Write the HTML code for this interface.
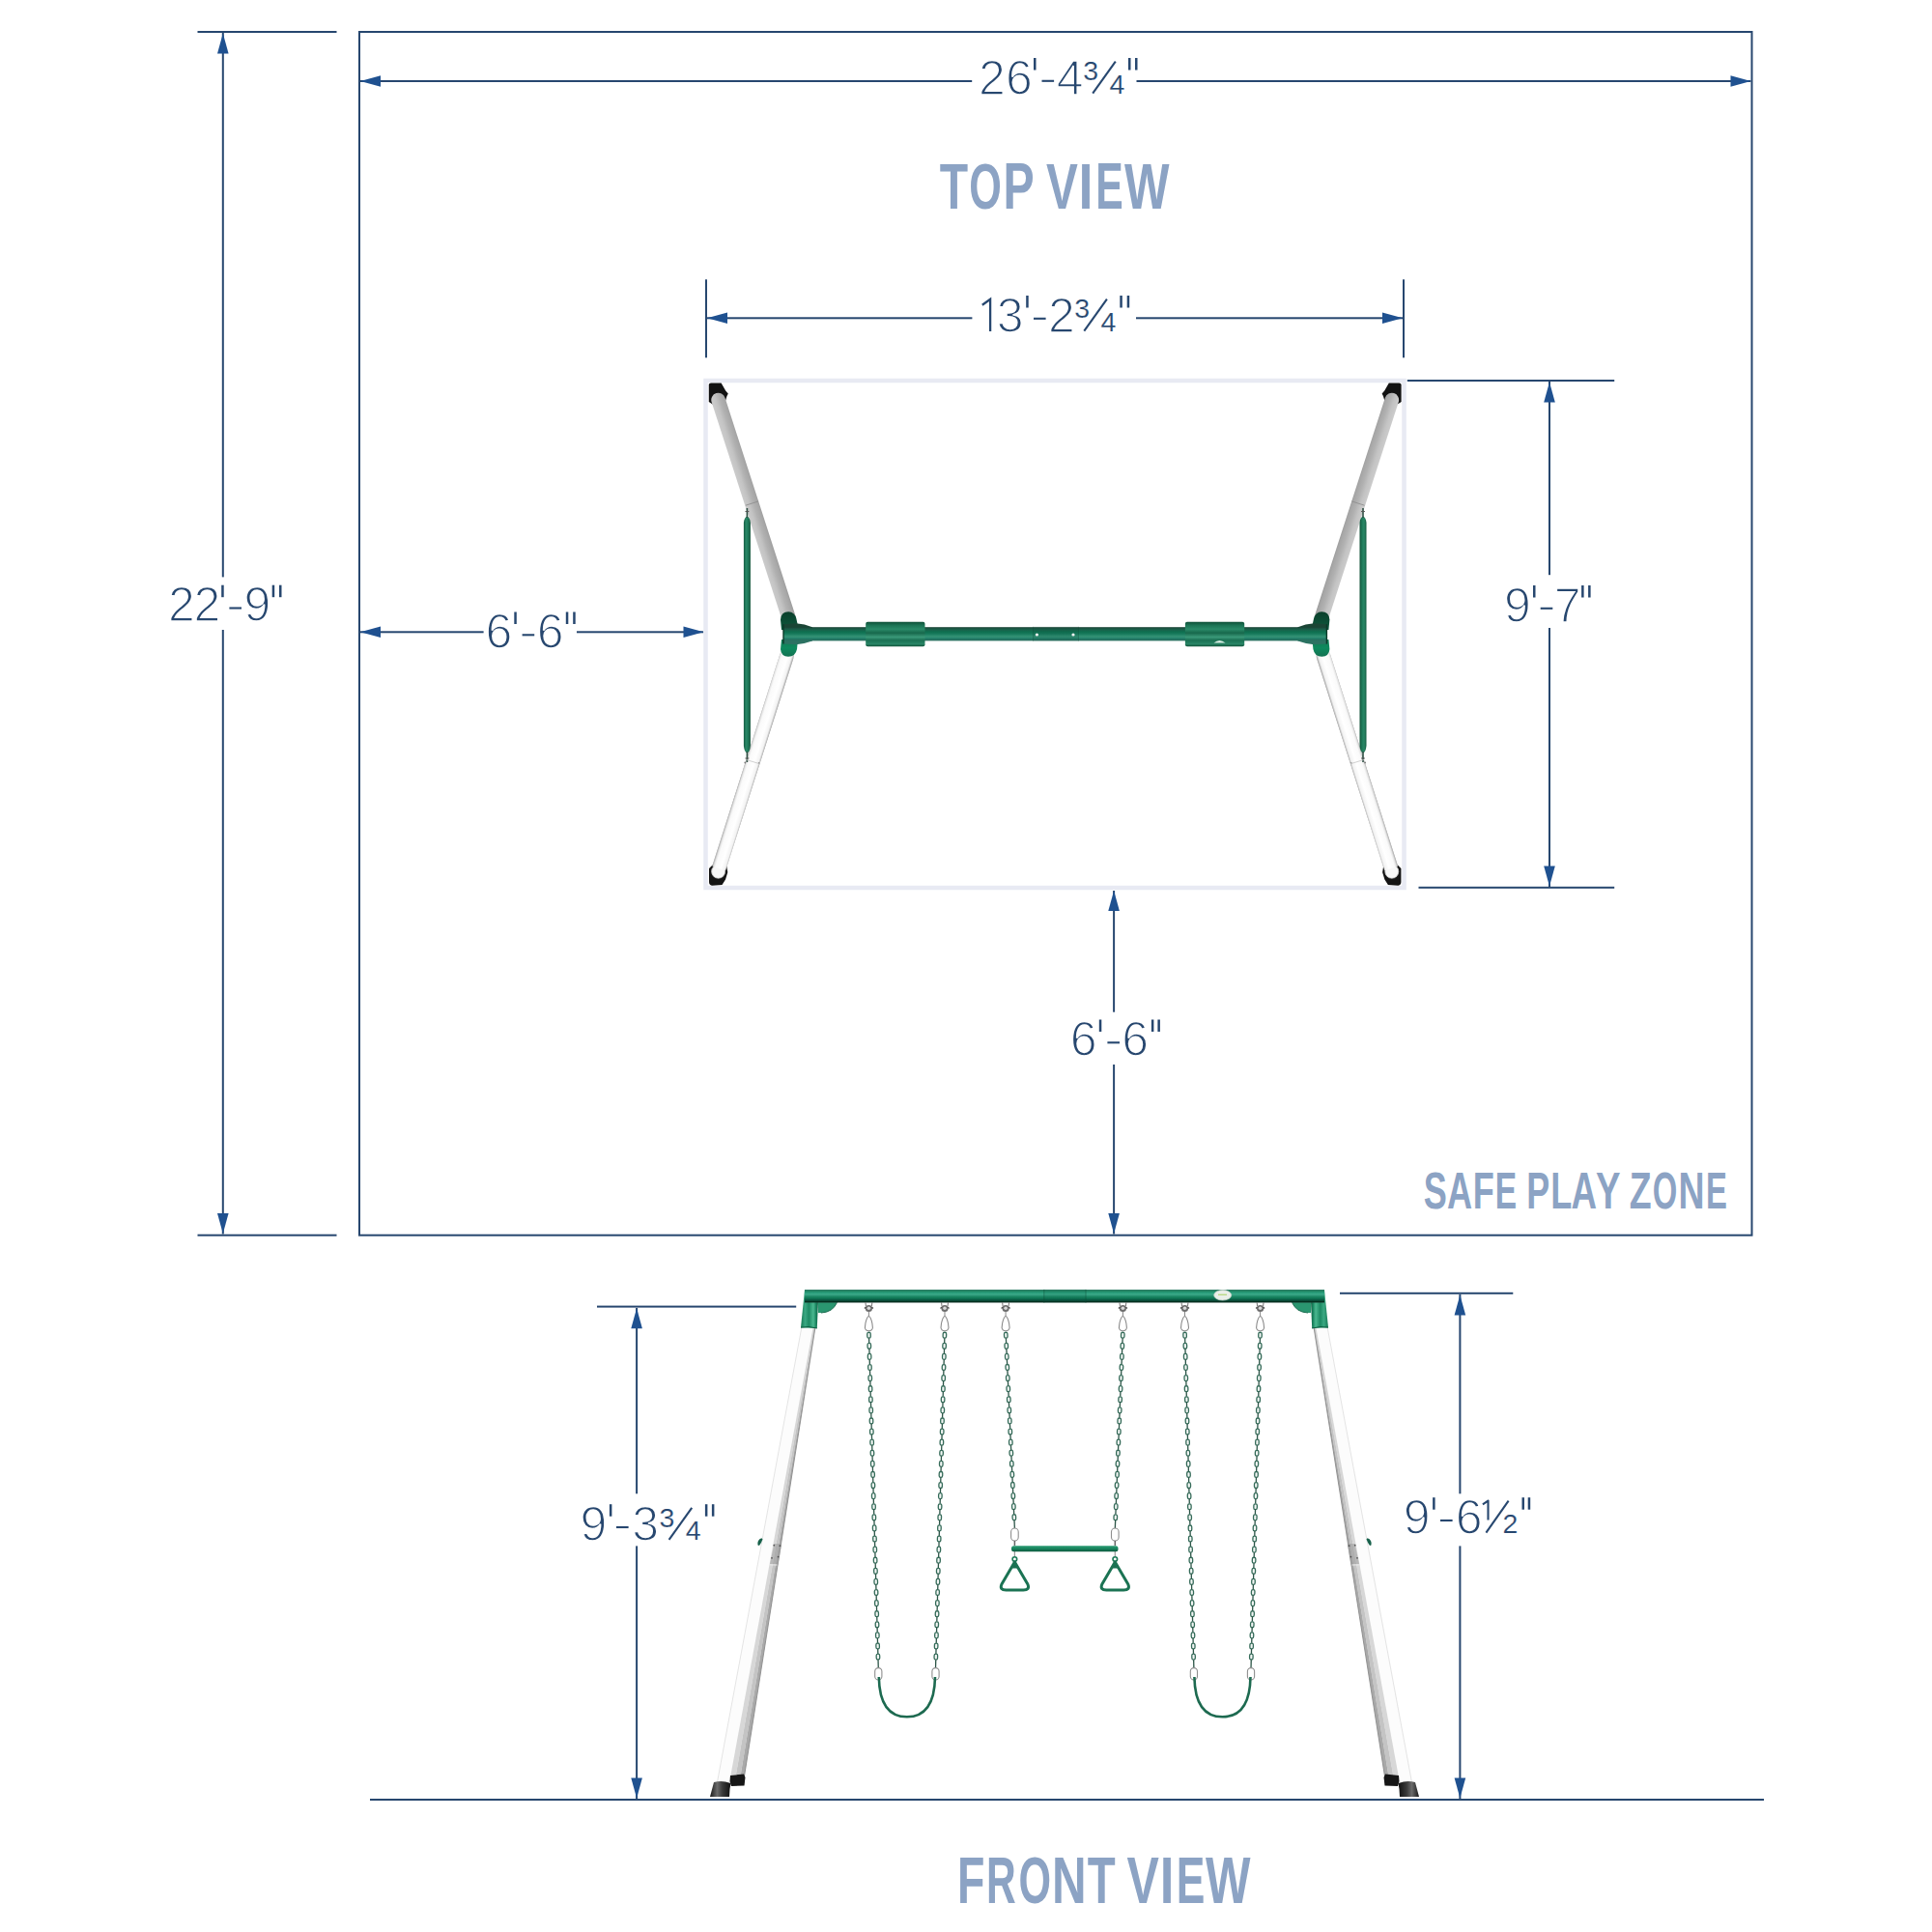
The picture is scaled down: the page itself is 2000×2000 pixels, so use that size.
<!DOCTYPE html>
<html><head><meta charset="utf-8"><title>Swing set dimensions</title>
<style>
html,body{margin:0;padding:0;background:#fff;}
body{width:2000px;height:2000px;overflow:hidden;}
svg{display:block;}
.dim{font-family:"Liberation Sans",sans-serif;font-size:50.0px;fill:#27476f;stroke:#fff;stroke-width:1.6px;paint-order:normal;}
.sm{font-size:28.5px;stroke-width:0.2px;}
.ttl{font-family:"Liberation Sans",sans-serif;font-weight:bold;fill:#8ca3c4;}
</style></head>
<body>
<svg width="2000" height="2000" viewBox="0 0 2000 2000">
<defs><linearGradient id="gUp" gradientUnits="userSpaceOnUse" x1="772.1" y1="525.2" x2="785.9" y2="520.8"><stop offset="0" stop-color="#cbcbcb"/><stop offset="0.3" stop-color="#c3c3c3"/><stop offset="0.6" stop-color="#b1b1b1"/><stop offset="0.9" stop-color="#a6a6a6"/><stop offset="1" stop-color="#9e9e9e"/></linearGradient><linearGradient id="gLo" gradientUnits="userSpaceOnUse" x1="772.0" y1="787.8" x2="786.0" y2="792.2"><stop offset="0" stop-color="#b8b8b8"/><stop offset="0.09" stop-color="#e6e6e6"/><stop offset="0.2" stop-color="#fafafa"/><stop offset="0.6" stop-color="#ffffff"/><stop offset="0.88" stop-color="#f2f2f2"/><stop offset="1" stop-color="#b4b4b4"/></linearGradient><linearGradient id="gBeamT" gradientUnits="userSpaceOnUse" x1="0" y1="649.3" x2="0" y2="663.5"><stop offset="0" stop-color="#1a4535"/><stop offset="0.08" stop-color="#1b5241"/><stop offset="0.2" stop-color="#18634a"/><stop offset="0.34" stop-color="#0e7050"/><stop offset="0.48" stop-color="#17795b"/><stop offset="0.6" stop-color="#288a6c"/><stop offset="0.7" stop-color="#359276"/><stop offset="0.8" stop-color="#23836c"/><stop offset="0.9" stop-color="#24705f"/><stop offset="1" stop-color="#2c7262"/></linearGradient><linearGradient id="gClamp" x1="0" y1="0" x2="0" y2="1"><stop offset="0" stop-color="#0f5038"/><stop offset="0.15" stop-color="#1c7556"/><stop offset="0.3" stop-color="#2a8a68"/><stop offset="0.45" stop-color="#17684c"/><stop offset="0.62" stop-color="#3a9878"/><stop offset="0.75" stop-color="#1a7053"/><stop offset="0.9" stop-color="#2a8566"/><stop offset="1" stop-color="#0f5238"/></linearGradient><linearGradient id="gBrace" x1="0" y1="0" x2="1" y2="0"><stop offset="0" stop-color="#145c42"/><stop offset="0.35" stop-color="#2a8766"/><stop offset="0.65" stop-color="#1f7a5a"/><stop offset="1" stop-color="#125238"/></linearGradient><linearGradient id="gJointU" x1="0" y1="0" x2="0" y2="1"><stop offset="0" stop-color="#0a3f2b"/><stop offset="1" stop-color="#0e5a3e"/></linearGradient><linearGradient id="gJointL" x1="0" y1="0" x2="0" y2="1"><stop offset="0" stop-color="#127a54"/><stop offset="0.5" stop-color="#0e8a5e"/><stop offset="1" stop-color="#137252"/></linearGradient><linearGradient id="gBeamF" x1="0" y1="0" x2="0" y2="1"><stop offset="0" stop-color="#2f7a66"/><stop offset="0.1" stop-color="#258462"/><stop offset="0.18" stop-color="#229270"/><stop offset="0.26" stop-color="#2c9e7c"/><stop offset="0.34" stop-color="#37a886"/><stop offset="0.41" stop-color="#35a080"/><stop offset="0.48" stop-color="#259070"/><stop offset="0.56" stop-color="#188560"/><stop offset="0.63" stop-color="#127a58"/><stop offset="0.7" stop-color="#0e6e50"/><stop offset="0.78" stop-color="#0a5a42"/><stop offset="0.85" stop-color="#0b4a38"/><stop offset="0.93" stop-color="#03301f"/><stop offset="1" stop-color="#1a3a30"/></linearGradient><linearGradient id="gSleeve" x1="0" y1="0" x2="1" y2="0"><stop offset="0" stop-color="#177a56"/><stop offset="0.25" stop-color="#3aa882"/><stop offset="0.45" stop-color="#1d8a64"/><stop offset="0.7" stop-color="#4ab890"/><stop offset="0.85" stop-color="#1a8560"/><stop offset="1" stop-color="#0c5a3e"/></linearGradient><linearGradient id="gGreyLeg" x1="0" y1="0" x2="1" y2="0"><stop offset="0" stop-color="#d8d8d8"/><stop offset="0.45" stop-color="#c6c6c6"/><stop offset="0.8" stop-color="#adadad"/><stop offset="1" stop-color="#8c8c8c"/></linearGradient><linearGradient id="gFoot" x1="0" y1="0" x2="1" y2="0"><stop offset="0" stop-color="#1a1a1a"/><stop offset="0.35" stop-color="#6a6a6a"/><stop offset="0.6" stop-color="#3a3a3a"/><stop offset="1" stop-color="#111"/></linearGradient><linearGradient id="gBar" x1="0" y1="0" x2="0" y2="1"><stop offset="0" stop-color="#2a9a72"/><stop offset="0.4" stop-color="#1c8a62"/><stop offset="1" stop-color="#0c5a3e"/></linearGradient></defs>
<rect width="2000" height="2000" fill="#fff"/>
<rect x="204.5" y="32.0" width="144.0" height="2" fill="#27476f"/>
<rect x="204.5" y="1277.7" width="144.0" height="2" fill="#27476f"/>
<rect x="372" y="33" width="1441.5" height="1245.7" fill="none" stroke="#27476f" stroke-width="2"/>
<rect x="229.8" y="34.0" width="2" height="563.4" fill="#27476f"/>
<rect x="229.8" y="652.0" width="2" height="625.5" fill="#27476f"/>
<polygon points="230.8,34.5 225.0,55.5 236.6,55.5" fill="#1f5190"/>
<polygon points="230.8,1277.0 225.0,1256.0 236.6,1256.0" fill="#1f5190"/>
<rect x="373.0" y="83.0" width="633.2" height="2" fill="#27476f"/>
<rect x="1176.5" y="83.0" width="636.0" height="2" fill="#27476f"/>
<polygon points="373.0,84.0 394.0,78.2 394.0,89.8" fill="#1f5190"/>
<polygon points="1812.5,84.0 1791.5,78.2 1791.5,89.8" fill="#1f5190"/>
<rect x="730.5" y="394" width="723" height="525" fill="none" stroke="#e8eaf3" stroke-width="4.5"/>
<rect x="730.0" y="289.3" width="2" height="81.0" fill="#27476f"/>
<rect x="1452.0" y="289.3" width="2" height="81.0" fill="#27476f"/>
<rect x="732.0" y="328.3" width="274.4" height="2" fill="#27476f"/>
<rect x="1176.0" y="328.3" width="276.0" height="2" fill="#27476f"/>
<polygon points="732.0,329.3 753.0,323.5 753.0,335.1" fill="#1f5190"/>
<polygon points="1452.0,329.3 1431.0,323.5 1431.0,335.1" fill="#1f5190"/>
<rect x="1456.8" y="393.0" width="214.4" height="2" fill="#27476f"/>
<rect x="1468.5" y="917.8" width="202.7" height="2" fill="#27476f"/>
<rect x="1603.0" y="395.0" width="2" height="200.2" fill="#27476f"/>
<rect x="1603.0" y="650.0" width="2" height="268.0" fill="#27476f"/>
<polygon points="1604.0,395.5 1598.2,416.5 1609.8,416.5" fill="#1f5190"/>
<polygon points="1604.0,917.5 1598.2,896.5 1609.8,896.5" fill="#1f5190"/>
<rect x="373.0" y="653.3" width="127.6" height="2" fill="#27476f"/>
<rect x="597.0" y="653.3" width="131.0" height="2" fill="#27476f"/>
<polygon points="373.0,654.3 394.0,648.5 394.0,660.1" fill="#1f5190"/>
<polygon points="728.5,654.3 707.5,648.5 707.5,660.1" fill="#1f5190"/>
<rect x="1152.1" y="922.0" width="2" height="125.7" fill="#27476f"/>
<rect x="1152.1" y="1102.0" width="2" height="175.5" fill="#27476f"/>
<polygon points="1153.1,922.0 1147.3,943.0 1158.9,943.0" fill="#1f5190"/>
<polygon points="1153.1,1277.0 1147.3,1256.0 1158.9,1256.0" fill="#1f5190"/>
<line x1="814.5" y1="679.0" x2="743.5" y2="901.0" stroke="url(#gLo)" stroke-width="14.6" stroke-linecap="round"/><path d="M734,899 L737.5,895.5 L741,897.5 L748,898 L752.3,897 L753.3,903 L751,910.5 L747.5,916 L737,916.8 Q734,916.3 734,913 Z" fill="#141414"/><circle cx="743.6" cy="902.2" r="7" fill="#f7f7f7" stroke="#c4c4c4" stroke-width="0.8"/><line x1="814.5" y1="679.0" x2="744.2" y2="899" stroke="url(#gLo)" stroke-width="14.6"/><path d="M733.8,398 Q734,396.4 736,396.4 L746.6,396.4 L751.2,404.5 L753.8,407.6 L752.5,410 L751,415 L741,418.6 L737.7,418.4 L733.8,415.9 Z" fill="#121212"/><line x1="743.6" y1="414.0" x2="816.0" y2="638.0" stroke="url(#gUp)" stroke-width="14.6" stroke-linecap="round"/><path d="M769.9,541 Q770.5,535.5 773.4,534.5 Q776.3,535.5 776.9,541 L776.9,772 Q776.3,778.5 773.4,779.5 Q770.5,778.5 769.9,772 Z" fill="url(#gBrace)"/><path d="M773.4,526 L773.4,536 M773.4,778 L773.4,789" stroke="#2f4f44" stroke-width="1.6"/><path d="M771.5,529.5 L775.3,529.5 M771.5,785 L775.3,785" stroke="#555" stroke-width="1.2"/><path d="M771.9,523.2 L785.1,518.9" stroke="#8e8e8e" stroke-width="0.9"/><path d="M772.3,786.4 L786.3,790.7" stroke="#c4c4c4" stroke-width="0.8"/><circle cx="771.3" cy="789.5" r="0.9" fill="#777"/><circle cx="785.6" cy="789.8" r="0.8" fill="#999"/><path d="M809,652 L808,641.5 Q808.5,633.2 816.2,633.2 Q822.8,633.6 824.4,640.5 L826,648 L826.5,653 Z" fill="url(#gJointU)"/><path d="M809,662 L826,662 L825,672 Q823.5,679.8 816,679.8 Q808.5,679.5 808,672 Z" fill="url(#gJointL)"/><path d="M811,646.2 L824,645.2 Q833,645.8 841,649.3 L841,663.5 Q833,666.5 824,667.2 L811,666.6 Z" fill="url(#gBeamT)"/><path d="M811,646.2 L811,666.6" stroke="#0a3a28" stroke-width="1.4"/><g transform="translate(2184.4,0) scale(-1,1)"><line x1="814.5" y1="679.0" x2="743.5" y2="901.0" stroke="url(#gLo)" stroke-width="14.6" stroke-linecap="round"/><path d="M734,899 L737.5,895.5 L741,897.5 L748,898 L752.3,897 L753.3,903 L751,910.5 L747.5,916 L737,916.8 Q734,916.3 734,913 Z" fill="#141414"/><circle cx="743.6" cy="902.2" r="7" fill="#f7f7f7" stroke="#c4c4c4" stroke-width="0.8"/><line x1="814.5" y1="679.0" x2="744.2" y2="899" stroke="url(#gLo)" stroke-width="14.6"/><path d="M733.8,398 Q734,396.4 736,396.4 L746.6,396.4 L751.2,404.5 L753.8,407.6 L752.5,410 L751,415 L741,418.6 L737.7,418.4 L733.8,415.9 Z" fill="#121212"/><line x1="743.6" y1="414.0" x2="816.0" y2="638.0" stroke="url(#gUp)" stroke-width="14.6" stroke-linecap="round"/><path d="M769.9,541 Q770.5,535.5 773.4,534.5 Q776.3,535.5 776.9,541 L776.9,772 Q776.3,778.5 773.4,779.5 Q770.5,778.5 769.9,772 Z" fill="url(#gBrace)"/><path d="M773.4,526 L773.4,536 M773.4,778 L773.4,789" stroke="#2f4f44" stroke-width="1.6"/><path d="M771.5,529.5 L775.3,529.5 M771.5,785 L775.3,785" stroke="#555" stroke-width="1.2"/><path d="M771.9,523.2 L785.1,518.9" stroke="#8e8e8e" stroke-width="0.9"/><path d="M772.3,786.4 L786.3,790.7" stroke="#c4c4c4" stroke-width="0.8"/><circle cx="771.3" cy="789.5" r="0.9" fill="#777"/><circle cx="785.6" cy="789.8" r="0.8" fill="#999"/><path d="M809,652 L808,641.5 Q808.5,633.2 816.2,633.2 Q822.8,633.6 824.4,640.5 L826,648 L826.5,653 Z" fill="url(#gJointU)"/><path d="M809,662 L826,662 L825,672 Q823.5,679.8 816,679.8 Q808.5,679.5 808,672 Z" fill="url(#gJointL)"/><path d="M811,646.2 L824,645.2 Q833,645.8 841,649.3 L841,663.5 Q833,666.5 824,667.2 L811,666.6 Z" fill="url(#gBeamT)"/><path d="M811,646.2 L811,666.6" stroke="#0a3a28" stroke-width="1.4"/></g><rect x="838" y="649.2" width="508.4" height="14.2" fill="url(#gBeamT)"/><rect x="896.2" y="643.7" width="61.3" height="25.5" rx="2" fill="url(#gClamp)"/><rect x="1226.9" y="643.7" width="61.3" height="25.5" rx="2" fill="url(#gClamp)"/><path d="M1256.5,665.5 Q1262.5,660.5 1268.5,665.5 Z" fill="#d8eee4"/><rect x="1069" y="648.6" width="48" height="15.2" fill="#0e4a36" opacity="0.12"/><path d="M1069.5,648.8 L1069.5,663.8 M1116.5,648.8 L1116.5,663.8" stroke="#0d4431" stroke-width="0.7" opacity="0.3"/><circle cx="1073.4" cy="657" r="1.6" fill="#f2f2f2"/><circle cx="1111" cy="657" r="1.6" fill="#f2f2f2"/>
<rect x="618.0" y="1351.6" width="206.2" height="2" fill="#27476f"/>
<rect x="1387.0" y="1337.8" width="179.3" height="2" fill="#27476f"/>
<rect x="658.1" y="1354.0" width="2" height="192.3" fill="#27476f"/>
<rect x="658.1" y="1600.4" width="2" height="261.6" fill="#27476f"/>
<polygon points="659.1,1354.3 653.3,1375.3 664.9,1375.3" fill="#1f5190"/>
<polygon points="659.1,1861.5 653.3,1840.5 664.9,1840.5" fill="#1f5190"/>
<rect x="1510.4" y="1340.0" width="2" height="206.3" fill="#27476f"/>
<rect x="1510.4" y="1600.4" width="2" height="261.6" fill="#27476f"/>
<polygon points="1511.4,1340.5 1505.6,1361.5 1517.2,1361.5" fill="#1f5190"/>
<polygon points="1511.4,1861.5 1505.6,1840.5 1517.2,1840.5" fill="#1f5190"/>
<polygon points="829.7,1374.5 843.5,1374.5 757,1846 742,1846" fill="#fcfcfc"/><line x1="829.7" y1="1375" x2="742.3" y2="1846" stroke="#e4e4e4" stroke-width="1"/><polygon points="841.5,1375.0 842.4,1375.0 761.4,1840.0 756.0,1840.0" fill="#d7d7d7"/><polygon points="842.4,1375.0 843.2,1375.0 766.3,1840.0 761.4,1840.0" fill="#c4c4c4"/><polygon points="843.2,1375.0 843.8,1375.0 770.3,1840.0 766.3,1840.0" fill="#a9a9a9"/><line x1="843.8" y1="1375" x2="770.3" y2="1840" stroke="#8a8a8a" stroke-width="0.9"/><polygon points="801.5,1598 809.2,1598 805.6,1619.5 796.9,1619.5" fill="#9c9c9c" opacity="0.55"/><circle cx="801.3" cy="1599.7" r="0.9" fill="#555"/><circle cx="807.4" cy="1600.2" r="0.9" fill="#555"/><circle cx="799.0" cy="1612.8" r="0.9" fill="#555"/><circle cx="805.6" cy="1611.6" r="0.9" fill="#555"/><line x1="796.5" y1="1619.8" x2="804.5" y2="1620" stroke="#f2f2f2" stroke-width="0.9"/><path d="M784.5,1599.5 Q783.5,1594 788.5,1592.3 L789.5,1593.5 Q788,1597.5 786,1600 Z" fill="#17614a"/><path d="M756,1838 L770,1836.5 L771.5,1840 L770.5,1848.5 L757,1849 L755.5,1844 Z" fill="#161616"/><path d="M739,1845 Q745,1843.5 751,1844.5 L756.5,1846 L755.5,1852 L755,1860 L735,1860 Z" fill="url(#gFoot)"/><polygon points="833,1335 847.5,1335 845.8,1375 829,1374.2" fill="url(#gSleeve)"/><path d="M829,1374.2 Q837,1372.5 845.8,1375" stroke="#0c5a3e" stroke-width="1" fill="none"/><path d="M847,1348 L866.5,1348 Q862,1358.5 850,1359 L847,1359 Z" fill="#2a9670"/><path d="M866.5,1348.3 Q862,1358.5 850,1359" stroke="#17694c" stroke-width="1" fill="none"/><g transform="translate(2204.0,0) scale(-1,1)"><polygon points="829.7,1374.5 843.5,1374.5 757,1846 742,1846" fill="#fcfcfc"/><line x1="829.7" y1="1375" x2="742.3" y2="1846" stroke="#e4e4e4" stroke-width="1"/><polygon points="841.5,1375.0 842.4,1375.0 761.4,1840.0 756.0,1840.0" fill="#d7d7d7"/><polygon points="842.4,1375.0 843.2,1375.0 766.3,1840.0 761.4,1840.0" fill="#c4c4c4"/><polygon points="843.2,1375.0 843.8,1375.0 770.3,1840.0 766.3,1840.0" fill="#a9a9a9"/><line x1="843.8" y1="1375" x2="770.3" y2="1840" stroke="#8a8a8a" stroke-width="0.9"/><polygon points="801.5,1598 809.2,1598 805.6,1619.5 796.9,1619.5" fill="#9c9c9c" opacity="0.55"/><circle cx="801.3" cy="1599.7" r="0.9" fill="#555"/><circle cx="807.4" cy="1600.2" r="0.9" fill="#555"/><circle cx="799.0" cy="1612.8" r="0.9" fill="#555"/><circle cx="805.6" cy="1611.6" r="0.9" fill="#555"/><line x1="796.5" y1="1619.8" x2="804.5" y2="1620" stroke="#f2f2f2" stroke-width="0.9"/><path d="M784.5,1599.5 Q783.5,1594 788.5,1592.3 L789.5,1593.5 Q788,1597.5 786,1600 Z" fill="#17614a"/><path d="M756,1838 L770,1836.5 L771.5,1840 L770.5,1848.5 L757,1849 L755.5,1844 Z" fill="#161616"/><path d="M739,1845 Q745,1843.5 751,1844.5 L756.5,1846 L755.5,1852 L755,1860 L735,1860 Z" fill="url(#gFoot)"/><polygon points="833,1335 847.5,1335 845.8,1375 829,1374.2" fill="url(#gSleeve)"/><path d="M829,1374.2 Q837,1372.5 845.8,1375" stroke="#0c5a3e" stroke-width="1" fill="none"/><path d="M847,1348 L866.5,1348 Q862,1358.5 850,1359 L847,1359 Z" fill="#2a9670"/><path d="M866.5,1348.3 Q862,1358.5 850,1359" stroke="#17694c" stroke-width="1" fill="none"/></g><rect x="833" y="1335" width="538" height="13.5" fill="url(#gBeamF)"/><rect x="1080.5" y="1334.6" width="43.8" height="14.3" fill="#0e5a40" opacity="0.1"/><path d="M1080.8,1334.8 L1080.8,1348.8 M1124,1334.8 L1124,1348.8" stroke="#0c4a34" stroke-width="0.8" opacity="0.5"/><ellipse cx="1265.7" cy="1340.8" rx="9" ry="5.2" fill="#e9efe9" stroke="#c8d2c8" stroke-width="0.8"/><line x1="1261" y1="1340.3" x2="1270" y2="1340.3" stroke="#b8d880" stroke-width="1.3"/><path d="M895.9,1348 L896.4,1352 M902.9,1348 L902.4,1352" stroke="#777" stroke-width="1"/><circle cx="899.4" cy="1354.5" r="3.6" fill="#6d6d6d"/><circle cx="899.4" cy="1354.3" r="1.8" fill="#d8d8d8"/><path d="M894.9,1354.5 L896.4,1353 M903.9,1354.5 L902.4,1353" stroke="#555" stroke-width="1.2"/><line x1="899.4" y1="1358" x2="899.4" y2="1363" stroke="#888" stroke-width="1"/><path d="M899.4,1362.5 Q901.4,1363 902.9,1370 L903.4,1374.5 Q902.9,1377.5 899.4,1377.8 Q895.9,1377.5 895.4,1374.5 L895.9,1370 Q897.4,1363 899.4,1362.5 Z" fill="#fff" stroke="#8a8a8a" stroke-width="1.1"/><rect x="897.75" y="1379.25" width="3.5" height="5.9" rx="1.65" fill="#f2f6f4" stroke="#356b59" stroke-width="1.3" transform="rotate(-1.63 899.50 1382.20)"/><line x1="899.59" y1="1385.30" x2="899.73" y2="1390.20" stroke="#2b5446" stroke-width="1.3"/><rect x="898.07" y="1390.34" width="3.5" height="5.9" rx="1.65" fill="#f2f6f4" stroke="#356b59" stroke-width="1.3" transform="rotate(-1.63 899.82 1393.29)"/><line x1="899.91" y1="1396.39" x2="900.04" y2="1401.29" stroke="#2b5446" stroke-width="1.3"/><rect x="898.38" y="1401.44" width="3.5" height="5.9" rx="1.65" fill="#f2f6f4" stroke="#356b59" stroke-width="1.3" transform="rotate(-1.63 900.13 1404.39)"/><line x1="900.22" y1="1407.49" x2="900.36" y2="1412.39" stroke="#2b5446" stroke-width="1.3"/><rect x="898.70" y="1412.54" width="3.5" height="5.9" rx="1.65" fill="#f2f6f4" stroke="#356b59" stroke-width="1.3" transform="rotate(-1.63 900.45 1415.49)"/><line x1="900.53" y1="1418.58" x2="900.67" y2="1423.48" stroke="#2b5446" stroke-width="1.3"/><rect x="899.01" y="1423.63" width="3.5" height="5.9" rx="1.65" fill="#f2f6f4" stroke="#356b59" stroke-width="1.3" transform="rotate(-1.63 900.76 1426.58)"/><line x1="900.85" y1="1429.68" x2="900.99" y2="1434.58" stroke="#2b5446" stroke-width="1.3"/><rect x="899.33" y="1434.73" width="3.5" height="5.9" rx="1.65" fill="#f2f6f4" stroke="#356b59" stroke-width="1.3" transform="rotate(-1.63 901.08 1437.68)"/><line x1="901.16" y1="1440.77" x2="901.30" y2="1445.67" stroke="#2b5446" stroke-width="1.3"/><rect x="899.64" y="1445.82" width="3.5" height="5.9" rx="1.65" fill="#f2f6f4" stroke="#356b59" stroke-width="1.3" transform="rotate(-1.63 901.39 1448.77)"/><line x1="901.48" y1="1451.87" x2="901.62" y2="1456.77" stroke="#2b5446" stroke-width="1.3"/><rect x="899.96" y="1456.92" width="3.5" height="5.9" rx="1.65" fill="#f2f6f4" stroke="#356b59" stroke-width="1.3" transform="rotate(-1.63 901.71 1459.87)"/><line x1="901.79" y1="1462.97" x2="901.93" y2="1467.86" stroke="#2b5446" stroke-width="1.3"/><rect x="900.27" y="1468.01" width="3.5" height="5.9" rx="1.65" fill="#f2f6f4" stroke="#356b59" stroke-width="1.3" transform="rotate(-1.63 902.02 1470.96)"/><line x1="902.11" y1="1474.06" x2="902.25" y2="1478.96" stroke="#2b5446" stroke-width="1.3"/><rect x="900.59" y="1479.11" width="3.5" height="5.9" rx="1.65" fill="#f2f6f4" stroke="#356b59" stroke-width="1.3" transform="rotate(-1.63 902.34 1482.06)"/><line x1="902.42" y1="1485.16" x2="902.56" y2="1490.06" stroke="#2b5446" stroke-width="1.3"/><rect x="900.90" y="1490.20" width="3.5" height="5.9" rx="1.65" fill="#f2f6f4" stroke="#356b59" stroke-width="1.3" transform="rotate(-1.63 902.65 1493.15)"/><line x1="902.74" y1="1496.25" x2="902.88" y2="1501.15" stroke="#2b5446" stroke-width="1.3"/><rect x="901.22" y="1501.30" width="3.5" height="5.9" rx="1.65" fill="#f2f6f4" stroke="#356b59" stroke-width="1.3" transform="rotate(-1.63 902.97 1504.25)"/><line x1="903.05" y1="1507.35" x2="903.19" y2="1512.25" stroke="#2b5446" stroke-width="1.3"/><rect x="901.53" y="1512.39" width="3.5" height="5.9" rx="1.65" fill="#f2f6f4" stroke="#356b59" stroke-width="1.3" transform="rotate(-1.63 903.28 1515.34)"/><line x1="903.37" y1="1518.44" x2="903.51" y2="1523.34" stroke="#2b5446" stroke-width="1.3"/><rect x="901.85" y="1523.49" width="3.5" height="5.9" rx="1.65" fill="#f2f6f4" stroke="#356b59" stroke-width="1.3" transform="rotate(-1.63 903.60 1526.44)"/><line x1="903.68" y1="1529.54" x2="903.82" y2="1534.44" stroke="#2b5446" stroke-width="1.3"/><rect x="902.16" y="1534.59" width="3.5" height="5.9" rx="1.65" fill="#f2f6f4" stroke="#356b59" stroke-width="1.3" transform="rotate(-1.63 903.91 1537.54)"/><line x1="904.00" y1="1540.63" x2="904.14" y2="1545.53" stroke="#2b5446" stroke-width="1.3"/><rect x="902.48" y="1545.68" width="3.5" height="5.9" rx="1.65" fill="#f2f6f4" stroke="#356b59" stroke-width="1.3" transform="rotate(-1.63 904.23 1548.63)"/><line x1="904.31" y1="1551.73" x2="904.45" y2="1556.63" stroke="#2b5446" stroke-width="1.3"/><rect x="902.79" y="1556.78" width="3.5" height="5.9" rx="1.65" fill="#f2f6f4" stroke="#356b59" stroke-width="1.3" transform="rotate(-1.63 904.54 1559.73)"/><line x1="904.63" y1="1562.83" x2="904.77" y2="1567.72" stroke="#2b5446" stroke-width="1.3"/><rect x="903.11" y="1567.87" width="3.5" height="5.9" rx="1.65" fill="#f2f6f4" stroke="#356b59" stroke-width="1.3" transform="rotate(-1.63 904.86 1570.82)"/><line x1="904.94" y1="1573.92" x2="905.08" y2="1578.82" stroke="#2b5446" stroke-width="1.3"/><rect x="903.42" y="1578.97" width="3.5" height="5.9" rx="1.65" fill="#f2f6f4" stroke="#356b59" stroke-width="1.3" transform="rotate(-1.63 905.17 1581.92)"/><line x1="905.26" y1="1585.02" x2="905.40" y2="1589.91" stroke="#2b5446" stroke-width="1.3"/><rect x="903.74" y="1590.06" width="3.5" height="5.9" rx="1.65" fill="#f2f6f4" stroke="#356b59" stroke-width="1.3" transform="rotate(-1.63 905.49 1593.01)"/><line x1="905.57" y1="1596.11" x2="905.71" y2="1601.01" stroke="#2b5446" stroke-width="1.3"/><rect x="904.05" y="1601.16" width="3.5" height="5.9" rx="1.65" fill="#f2f6f4" stroke="#356b59" stroke-width="1.3" transform="rotate(-1.63 905.80 1604.11)"/><line x1="905.89" y1="1607.21" x2="906.03" y2="1612.11" stroke="#2b5446" stroke-width="1.3"/><rect x="904.37" y="1612.25" width="3.5" height="5.9" rx="1.65" fill="#f2f6f4" stroke="#356b59" stroke-width="1.3" transform="rotate(-1.63 906.12 1615.20)"/><line x1="906.20" y1="1618.30" x2="906.34" y2="1623.20" stroke="#2b5446" stroke-width="1.3"/><rect x="904.68" y="1623.35" width="3.5" height="5.9" rx="1.65" fill="#f2f6f4" stroke="#356b59" stroke-width="1.3" transform="rotate(-1.63 906.43 1626.30)"/><line x1="906.52" y1="1629.40" x2="906.66" y2="1634.30" stroke="#2b5446" stroke-width="1.3"/><rect x="905.00" y="1634.45" width="3.5" height="5.9" rx="1.65" fill="#f2f6f4" stroke="#356b59" stroke-width="1.3" transform="rotate(-1.63 906.75 1637.40)"/><line x1="906.83" y1="1640.49" x2="906.97" y2="1645.39" stroke="#2b5446" stroke-width="1.3"/><rect x="905.31" y="1645.54" width="3.5" height="5.9" rx="1.65" fill="#f2f6f4" stroke="#356b59" stroke-width="1.3" transform="rotate(-1.63 907.06 1648.49)"/><line x1="907.15" y1="1651.59" x2="907.29" y2="1656.49" stroke="#2b5446" stroke-width="1.3"/><rect x="905.63" y="1656.64" width="3.5" height="5.9" rx="1.65" fill="#f2f6f4" stroke="#356b59" stroke-width="1.3" transform="rotate(-1.63 907.38 1659.59)"/><line x1="907.46" y1="1662.69" x2="907.60" y2="1667.58" stroke="#2b5446" stroke-width="1.3"/><rect x="905.94" y="1667.73" width="3.5" height="5.9" rx="1.65" fill="#f2f6f4" stroke="#356b59" stroke-width="1.3" transform="rotate(-1.63 907.69 1670.68)"/><line x1="907.78" y1="1673.78" x2="907.92" y2="1678.68" stroke="#2b5446" stroke-width="1.3"/><rect x="906.26" y="1678.83" width="3.5" height="5.9" rx="1.65" fill="#f2f6f4" stroke="#356b59" stroke-width="1.3" transform="rotate(-1.63 908.01 1681.78)"/><line x1="908.09" y1="1684.88" x2="908.23" y2="1689.77" stroke="#2b5446" stroke-width="1.3"/><rect x="906.57" y="1689.92" width="3.5" height="5.9" rx="1.65" fill="#f2f6f4" stroke="#356b59" stroke-width="1.3" transform="rotate(-1.63 908.32 1692.87)"/><line x1="908.41" y1="1695.97" x2="908.55" y2="1700.87" stroke="#2b5446" stroke-width="1.3"/><rect x="906.88" y="1701.02" width="3.5" height="5.9" rx="1.65" fill="#f2f6f4" stroke="#356b59" stroke-width="1.3" transform="rotate(-1.63 908.63 1703.97)"/><line x1="908.72" y1="1707.07" x2="908.86" y2="1711.97" stroke="#2b5446" stroke-width="1.3"/><rect x="907.20" y="1712.11" width="3.5" height="5.9" rx="1.65" fill="#f2f6f4" stroke="#356b59" stroke-width="1.3" transform="rotate(-1.63 908.95 1715.06)"/><line x1="909.04" y1="1718.16" x2="909.30" y2="1727.40" stroke="#2b5446" stroke-width="1.3"/><path d="M974.5,1348 L975.0,1352 M981.5,1348 L981.0,1352" stroke="#777" stroke-width="1"/><circle cx="978.0" cy="1354.5" r="3.6" fill="#6d6d6d"/><circle cx="978.0" cy="1354.3" r="1.8" fill="#d8d8d8"/><path d="M973.5,1354.5 L975.0,1353 M982.5,1354.5 L981.0,1353" stroke="#555" stroke-width="1.2"/><line x1="978.0" y1="1358" x2="978.0" y2="1363" stroke="#888" stroke-width="1"/><path d="M978.0,1362.5 Q980.0,1363 981.5,1370 L982.0,1374.5 Q981.5,1377.5 978.0,1377.8 Q974.5,1377.5 974.0,1374.5 L974.5,1370 Q976.0,1363 978.0,1362.5 Z" fill="#fff" stroke="#8a8a8a" stroke-width="1.1"/><rect x="976.15" y="1379.25" width="3.5" height="5.9" rx="1.65" fill="#f2f6f4" stroke="#356b59" stroke-width="1.3" transform="rotate(1.56 977.90 1382.20)"/><line x1="977.82" y1="1385.30" x2="977.68" y2="1390.20" stroke="#2b5446" stroke-width="1.3"/><rect x="975.85" y="1390.34" width="3.5" height="5.9" rx="1.65" fill="#f2f6f4" stroke="#356b59" stroke-width="1.3" transform="rotate(1.56 977.60 1393.29)"/><line x1="977.52" y1="1396.39" x2="977.38" y2="1401.29" stroke="#2b5446" stroke-width="1.3"/><rect x="975.55" y="1401.44" width="3.5" height="5.9" rx="1.65" fill="#f2f6f4" stroke="#356b59" stroke-width="1.3" transform="rotate(1.56 977.30 1404.39)"/><line x1="977.21" y1="1407.49" x2="977.08" y2="1412.39" stroke="#2b5446" stroke-width="1.3"/><rect x="975.25" y="1412.54" width="3.5" height="5.9" rx="1.65" fill="#f2f6f4" stroke="#356b59" stroke-width="1.3" transform="rotate(1.56 977.00 1415.49)"/><line x1="976.91" y1="1418.59" x2="976.78" y2="1423.48" stroke="#2b5446" stroke-width="1.3"/><rect x="974.94" y="1423.63" width="3.5" height="5.9" rx="1.65" fill="#f2f6f4" stroke="#356b59" stroke-width="1.3" transform="rotate(1.56 976.69 1426.58)"/><line x1="976.61" y1="1429.68" x2="976.48" y2="1434.58" stroke="#2b5446" stroke-width="1.3"/><rect x="974.64" y="1434.73" width="3.5" height="5.9" rx="1.65" fill="#f2f6f4" stroke="#356b59" stroke-width="1.3" transform="rotate(1.56 976.39 1437.68)"/><line x1="976.31" y1="1440.78" x2="976.17" y2="1445.68" stroke="#2b5446" stroke-width="1.3"/><rect x="974.34" y="1445.82" width="3.5" height="5.9" rx="1.65" fill="#f2f6f4" stroke="#356b59" stroke-width="1.3" transform="rotate(1.56 976.09 1448.77)"/><line x1="976.00" y1="1451.87" x2="975.87" y2="1456.77" stroke="#2b5446" stroke-width="1.3"/><rect x="974.04" y="1456.92" width="3.5" height="5.9" rx="1.65" fill="#f2f6f4" stroke="#356b59" stroke-width="1.3" transform="rotate(1.56 975.79 1459.87)"/><line x1="975.70" y1="1462.97" x2="975.57" y2="1467.87" stroke="#2b5446" stroke-width="1.3"/><rect x="973.73" y="1468.02" width="3.5" height="5.9" rx="1.65" fill="#f2f6f4" stroke="#356b59" stroke-width="1.3" transform="rotate(1.56 975.48 1470.97)"/><line x1="975.40" y1="1474.06" x2="975.27" y2="1478.96" stroke="#2b5446" stroke-width="1.3"/><rect x="973.43" y="1479.11" width="3.5" height="5.9" rx="1.65" fill="#f2f6f4" stroke="#356b59" stroke-width="1.3" transform="rotate(1.56 975.18 1482.06)"/><line x1="975.10" y1="1485.16" x2="974.96" y2="1490.06" stroke="#2b5446" stroke-width="1.3"/><rect x="973.13" y="1490.21" width="3.5" height="5.9" rx="1.65" fill="#f2f6f4" stroke="#356b59" stroke-width="1.3" transform="rotate(1.56 974.88 1493.16)"/><line x1="974.80" y1="1496.26" x2="974.66" y2="1501.15" stroke="#2b5446" stroke-width="1.3"/><rect x="972.83" y="1501.30" width="3.5" height="5.9" rx="1.65" fill="#f2f6f4" stroke="#356b59" stroke-width="1.3" transform="rotate(1.56 974.58 1504.25)"/><line x1="974.49" y1="1507.35" x2="974.36" y2="1512.25" stroke="#2b5446" stroke-width="1.3"/><rect x="972.53" y="1512.40" width="3.5" height="5.9" rx="1.65" fill="#f2f6f4" stroke="#356b59" stroke-width="1.3" transform="rotate(1.56 974.28 1515.35)"/><line x1="974.19" y1="1518.45" x2="974.06" y2="1523.35" stroke="#2b5446" stroke-width="1.3"/><rect x="972.22" y="1523.50" width="3.5" height="5.9" rx="1.65" fill="#f2f6f4" stroke="#356b59" stroke-width="1.3" transform="rotate(1.56 973.97 1526.45)"/><line x1="973.89" y1="1529.54" x2="973.76" y2="1534.44" stroke="#2b5446" stroke-width="1.3"/><rect x="971.92" y="1534.59" width="3.5" height="5.9" rx="1.65" fill="#f2f6f4" stroke="#356b59" stroke-width="1.3" transform="rotate(1.56 973.67 1537.54)"/><line x1="973.59" y1="1540.64" x2="973.45" y2="1545.54" stroke="#2b5446" stroke-width="1.3"/><rect x="971.62" y="1545.69" width="3.5" height="5.9" rx="1.65" fill="#f2f6f4" stroke="#356b59" stroke-width="1.3" transform="rotate(1.56 973.37 1548.64)"/><line x1="973.28" y1="1551.74" x2="973.15" y2="1556.63" stroke="#2b5446" stroke-width="1.3"/><rect x="971.32" y="1556.78" width="3.5" height="5.9" rx="1.65" fill="#f2f6f4" stroke="#356b59" stroke-width="1.3" transform="rotate(1.56 973.07 1559.73)"/><line x1="972.98" y1="1562.83" x2="972.85" y2="1567.73" stroke="#2b5446" stroke-width="1.3"/><rect x="971.01" y="1567.88" width="3.5" height="5.9" rx="1.65" fill="#f2f6f4" stroke="#356b59" stroke-width="1.3" transform="rotate(1.56 972.76 1570.83)"/><line x1="972.68" y1="1573.93" x2="972.55" y2="1578.83" stroke="#2b5446" stroke-width="1.3"/><rect x="970.71" y="1578.97" width="3.5" height="5.9" rx="1.65" fill="#f2f6f4" stroke="#356b59" stroke-width="1.3" transform="rotate(1.56 972.46 1581.92)"/><line x1="972.38" y1="1585.02" x2="972.24" y2="1589.92" stroke="#2b5446" stroke-width="1.3"/><rect x="970.41" y="1590.07" width="3.5" height="5.9" rx="1.65" fill="#f2f6f4" stroke="#356b59" stroke-width="1.3" transform="rotate(1.56 972.16 1593.02)"/><line x1="972.08" y1="1596.12" x2="971.94" y2="1601.02" stroke="#2b5446" stroke-width="1.3"/><rect x="970.11" y="1601.17" width="3.5" height="5.9" rx="1.65" fill="#f2f6f4" stroke="#356b59" stroke-width="1.3" transform="rotate(1.56 971.86 1604.12)"/><line x1="971.77" y1="1607.22" x2="971.64" y2="1612.11" stroke="#2b5446" stroke-width="1.3"/><rect x="969.81" y="1612.26" width="3.5" height="5.9" rx="1.65" fill="#f2f6f4" stroke="#356b59" stroke-width="1.3" transform="rotate(1.56 971.56 1615.21)"/><line x1="971.47" y1="1618.31" x2="971.34" y2="1623.21" stroke="#2b5446" stroke-width="1.3"/><rect x="969.50" y="1623.36" width="3.5" height="5.9" rx="1.65" fill="#f2f6f4" stroke="#356b59" stroke-width="1.3" transform="rotate(1.56 971.25 1626.31)"/><line x1="971.17" y1="1629.41" x2="971.04" y2="1634.31" stroke="#2b5446" stroke-width="1.3"/><rect x="969.20" y="1634.45" width="3.5" height="5.9" rx="1.65" fill="#f2f6f4" stroke="#356b59" stroke-width="1.3" transform="rotate(1.56 970.95 1637.40)"/><line x1="970.87" y1="1640.50" x2="970.73" y2="1645.40" stroke="#2b5446" stroke-width="1.3"/><rect x="968.90" y="1645.55" width="3.5" height="5.9" rx="1.65" fill="#f2f6f4" stroke="#356b59" stroke-width="1.3" transform="rotate(1.56 970.65 1648.50)"/><line x1="970.56" y1="1651.60" x2="970.43" y2="1656.50" stroke="#2b5446" stroke-width="1.3"/><rect x="968.60" y="1656.65" width="3.5" height="5.9" rx="1.65" fill="#f2f6f4" stroke="#356b59" stroke-width="1.3" transform="rotate(1.56 970.35 1659.60)"/><line x1="970.26" y1="1662.69" x2="970.13" y2="1667.59" stroke="#2b5446" stroke-width="1.3"/><rect x="968.29" y="1667.74" width="3.5" height="5.9" rx="1.65" fill="#f2f6f4" stroke="#356b59" stroke-width="1.3" transform="rotate(1.56 970.04 1670.69)"/><line x1="969.96" y1="1673.79" x2="969.83" y2="1678.69" stroke="#2b5446" stroke-width="1.3"/><rect x="967.99" y="1678.84" width="3.5" height="5.9" rx="1.65" fill="#f2f6f4" stroke="#356b59" stroke-width="1.3" transform="rotate(1.56 969.74 1681.79)"/><line x1="969.66" y1="1684.89" x2="969.52" y2="1689.78" stroke="#2b5446" stroke-width="1.3"/><rect x="967.69" y="1689.93" width="3.5" height="5.9" rx="1.65" fill="#f2f6f4" stroke="#356b59" stroke-width="1.3" transform="rotate(1.56 969.44 1692.88)"/><line x1="969.36" y1="1695.98" x2="969.22" y2="1700.88" stroke="#2b5446" stroke-width="1.3"/><rect x="967.39" y="1701.03" width="3.5" height="5.9" rx="1.65" fill="#f2f6f4" stroke="#356b59" stroke-width="1.3" transform="rotate(1.56 969.14 1703.98)"/><line x1="969.05" y1="1707.08" x2="968.92" y2="1711.98" stroke="#2b5446" stroke-width="1.3"/><rect x="967.09" y="1712.13" width="3.5" height="5.9" rx="1.65" fill="#f2f6f4" stroke="#356b59" stroke-width="1.3" transform="rotate(1.56 968.84 1715.08)"/><line x1="968.75" y1="1718.17" x2="968.50" y2="1727.40" stroke="#2b5446" stroke-width="1.3"/><path d="M1037.6,1348 L1038.1,1352 M1044.6,1348 L1044.1,1352" stroke="#777" stroke-width="1"/><circle cx="1041.1" cy="1354.5" r="3.6" fill="#6d6d6d"/><circle cx="1041.1" cy="1354.3" r="1.8" fill="#d8d8d8"/><path d="M1036.6,1354.5 L1038.1,1353 M1045.6,1354.5 L1044.1,1353" stroke="#555" stroke-width="1.2"/><line x1="1041.1" y1="1358" x2="1041.1" y2="1363" stroke="#888" stroke-width="1"/><path d="M1041.1,1362.5 Q1043.1,1363 1044.6,1370 L1045.1,1374.5 Q1044.6,1377.5 1041.1,1377.8 Q1037.6,1377.5 1037.1,1374.5 L1037.6,1370 Q1039.1,1363 1041.1,1362.5 Z" fill="#fff" stroke="#8a8a8a" stroke-width="1.1"/><rect x="1039.51" y="1379.25" width="3.5" height="5.9" rx="1.65" fill="#f2f6f4" stroke="#356b59" stroke-width="1.3" transform="rotate(-2.61 1041.26 1382.20)"/><line x1="1041.40" y1="1385.29" x2="1041.63" y2="1390.19" stroke="#2b5446" stroke-width="1.3"/><rect x="1040.02" y="1390.33" width="3.5" height="5.9" rx="1.65" fill="#f2f6f4" stroke="#356b59" stroke-width="1.3" transform="rotate(-2.61 1041.77 1393.28)"/><line x1="1041.91" y1="1396.38" x2="1042.13" y2="1401.28" stroke="#2b5446" stroke-width="1.3"/><rect x="1040.52" y="1401.42" width="3.5" height="5.9" rx="1.65" fill="#f2f6f4" stroke="#356b59" stroke-width="1.3" transform="rotate(-2.61 1042.27 1404.37)"/><line x1="1042.41" y1="1407.47" x2="1042.64" y2="1412.37" stroke="#2b5446" stroke-width="1.3"/><rect x="1041.03" y="1412.51" width="3.5" height="5.9" rx="1.65" fill="#f2f6f4" stroke="#356b59" stroke-width="1.3" transform="rotate(-2.61 1042.78 1415.46)"/><line x1="1042.92" y1="1418.56" x2="1043.14" y2="1423.45" stroke="#2b5446" stroke-width="1.3"/><rect x="1041.53" y="1423.60" width="3.5" height="5.9" rx="1.65" fill="#f2f6f4" stroke="#356b59" stroke-width="1.3" transform="rotate(-2.61 1043.28 1426.55)"/><line x1="1043.42" y1="1429.65" x2="1043.65" y2="1434.54" stroke="#2b5446" stroke-width="1.3"/><rect x="1042.04" y="1434.69" width="3.5" height="5.9" rx="1.65" fill="#f2f6f4" stroke="#356b59" stroke-width="1.3" transform="rotate(-2.61 1043.79 1437.64)"/><line x1="1043.93" y1="1440.74" x2="1044.15" y2="1445.63" stroke="#2b5446" stroke-width="1.3"/><rect x="1042.54" y="1445.78" width="3.5" height="5.9" rx="1.65" fill="#f2f6f4" stroke="#356b59" stroke-width="1.3" transform="rotate(-2.61 1044.29 1448.73)"/><line x1="1044.43" y1="1451.82" x2="1044.66" y2="1456.72" stroke="#2b5446" stroke-width="1.3"/><rect x="1043.05" y="1456.87" width="3.5" height="5.9" rx="1.65" fill="#f2f6f4" stroke="#356b59" stroke-width="1.3" transform="rotate(-2.61 1044.80 1459.82)"/><line x1="1044.94" y1="1462.91" x2="1045.16" y2="1467.81" stroke="#2b5446" stroke-width="1.3"/><rect x="1043.55" y="1467.95" width="3.5" height="5.9" rx="1.65" fill="#f2f6f4" stroke="#356b59" stroke-width="1.3" transform="rotate(-2.61 1045.30 1470.90)"/><line x1="1045.44" y1="1474.00" x2="1045.67" y2="1478.90" stroke="#2b5446" stroke-width="1.3"/><rect x="1044.06" y="1479.04" width="3.5" height="5.9" rx="1.65" fill="#f2f6f4" stroke="#356b59" stroke-width="1.3" transform="rotate(-2.61 1045.81 1481.99)"/><line x1="1045.95" y1="1485.09" x2="1046.17" y2="1489.98" stroke="#2b5446" stroke-width="1.3"/><rect x="1044.56" y="1490.13" width="3.5" height="5.9" rx="1.65" fill="#f2f6f4" stroke="#356b59" stroke-width="1.3" transform="rotate(-2.61 1046.31 1493.08)"/><line x1="1046.45" y1="1496.18" x2="1046.68" y2="1501.07" stroke="#2b5446" stroke-width="1.3"/><rect x="1045.07" y="1501.22" width="3.5" height="5.9" rx="1.65" fill="#f2f6f4" stroke="#356b59" stroke-width="1.3" transform="rotate(-2.61 1046.82 1504.17)"/><line x1="1046.96" y1="1507.27" x2="1047.18" y2="1512.16" stroke="#2b5446" stroke-width="1.3"/><rect x="1045.57" y="1512.31" width="3.5" height="5.9" rx="1.65" fill="#f2f6f4" stroke="#356b59" stroke-width="1.3" transform="rotate(-2.61 1047.32 1515.26)"/><line x1="1047.46" y1="1518.36" x2="1047.69" y2="1523.25" stroke="#2b5446" stroke-width="1.3"/><rect x="1046.08" y="1523.40" width="3.5" height="5.9" rx="1.65" fill="#f2f6f4" stroke="#356b59" stroke-width="1.3" transform="rotate(-2.61 1047.83 1526.35)"/><line x1="1047.97" y1="1529.44" x2="1048.19" y2="1534.34" stroke="#2b5446" stroke-width="1.3"/><rect x="1046.58" y="1534.49" width="3.5" height="5.9" rx="1.65" fill="#f2f6f4" stroke="#356b59" stroke-width="1.3" transform="rotate(-2.61 1048.33 1537.44)"/><line x1="1048.47" y1="1540.53" x2="1048.70" y2="1545.43" stroke="#2b5446" stroke-width="1.3"/><rect x="1047.09" y="1545.57" width="3.5" height="5.9" rx="1.65" fill="#f2f6f4" stroke="#356b59" stroke-width="1.3" transform="rotate(-2.61 1048.84 1548.52)"/><line x1="1048.98" y1="1551.62" x2="1049.20" y2="1556.52" stroke="#2b5446" stroke-width="1.3"/><rect x="1047.59" y="1556.66" width="3.5" height="5.9" rx="1.65" fill="#f2f6f4" stroke="#356b59" stroke-width="1.3" transform="rotate(-2.61 1049.34 1559.61)"/><line x1="1049.48" y1="1562.71" x2="1049.71" y2="1567.60" stroke="#2b5446" stroke-width="1.3"/><rect x="1048.10" y="1567.75" width="3.5" height="5.9" rx="1.65" fill="#f2f6f4" stroke="#356b59" stroke-width="1.3" transform="rotate(-2.61 1049.85 1570.70)"/><line x1="1049.99" y1="1573.80" x2="1050.40" y2="1582.80" stroke="#2b5446" stroke-width="1.3"/><path d="M1158.9,1348 L1159.4,1352 M1165.9,1348 L1165.4,1352" stroke="#777" stroke-width="1"/><circle cx="1162.4" cy="1354.5" r="3.6" fill="#6d6d6d"/><circle cx="1162.4" cy="1354.3" r="1.8" fill="#d8d8d8"/><path d="M1157.9,1354.5 L1159.4,1353 M1166.9,1354.5 L1165.4,1353" stroke="#555" stroke-width="1.2"/><line x1="1162.4" y1="1358" x2="1162.4" y2="1363" stroke="#888" stroke-width="1"/><path d="M1162.4,1362.5 Q1164.4,1363 1165.9,1370 L1166.4,1374.5 Q1165.9,1377.5 1162.4,1377.8 Q1158.9,1377.5 1158.4,1374.5 L1158.9,1370 Q1160.4,1363 1162.4,1362.5 Z" fill="#fff" stroke="#8a8a8a" stroke-width="1.1"/><rect x="1160.51" y="1379.25" width="3.5" height="5.9" rx="1.65" fill="#f2f6f4" stroke="#356b59" stroke-width="1.3" transform="rotate(2.27 1162.26 1382.20)"/><line x1="1162.13" y1="1385.29" x2="1161.94" y2="1390.19" stroke="#2b5446" stroke-width="1.3"/><rect x="1160.07" y="1390.34" width="3.5" height="5.9" rx="1.65" fill="#f2f6f4" stroke="#356b59" stroke-width="1.3" transform="rotate(2.27 1161.82 1393.29)"/><line x1="1161.69" y1="1396.39" x2="1161.50" y2="1401.28" stroke="#2b5446" stroke-width="1.3"/><rect x="1159.63" y="1401.43" width="3.5" height="5.9" rx="1.65" fill="#f2f6f4" stroke="#356b59" stroke-width="1.3" transform="rotate(2.27 1161.38 1404.38)"/><line x1="1161.25" y1="1407.48" x2="1161.06" y2="1412.37" stroke="#2b5446" stroke-width="1.3"/><rect x="1159.19" y="1412.52" width="3.5" height="5.9" rx="1.65" fill="#f2f6f4" stroke="#356b59" stroke-width="1.3" transform="rotate(2.27 1160.94 1415.47)"/><line x1="1160.81" y1="1418.57" x2="1160.62" y2="1423.46" stroke="#2b5446" stroke-width="1.3"/><rect x="1158.75" y="1423.61" width="3.5" height="5.9" rx="1.65" fill="#f2f6f4" stroke="#356b59" stroke-width="1.3" transform="rotate(2.27 1160.50 1426.56)"/><line x1="1160.37" y1="1429.66" x2="1160.18" y2="1434.56" stroke="#2b5446" stroke-width="1.3"/><rect x="1158.31" y="1434.70" width="3.5" height="5.9" rx="1.65" fill="#f2f6f4" stroke="#356b59" stroke-width="1.3" transform="rotate(2.27 1160.06 1437.65)"/><line x1="1159.93" y1="1440.75" x2="1159.74" y2="1445.65" stroke="#2b5446" stroke-width="1.3"/><rect x="1157.87" y="1445.79" width="3.5" height="5.9" rx="1.65" fill="#f2f6f4" stroke="#356b59" stroke-width="1.3" transform="rotate(2.27 1159.62 1448.74)"/><line x1="1159.49" y1="1451.84" x2="1159.30" y2="1456.74" stroke="#2b5446" stroke-width="1.3"/><rect x="1157.43" y="1456.89" width="3.5" height="5.9" rx="1.65" fill="#f2f6f4" stroke="#356b59" stroke-width="1.3" transform="rotate(2.27 1159.18 1459.84)"/><line x1="1159.05" y1="1462.93" x2="1158.86" y2="1467.83" stroke="#2b5446" stroke-width="1.3"/><rect x="1156.99" y="1467.98" width="3.5" height="5.9" rx="1.65" fill="#f2f6f4" stroke="#356b59" stroke-width="1.3" transform="rotate(2.27 1158.74 1470.93)"/><line x1="1158.61" y1="1474.02" x2="1158.42" y2="1478.92" stroke="#2b5446" stroke-width="1.3"/><rect x="1156.55" y="1479.07" width="3.5" height="5.9" rx="1.65" fill="#f2f6f4" stroke="#356b59" stroke-width="1.3" transform="rotate(2.27 1158.30 1482.02)"/><line x1="1158.17" y1="1485.12" x2="1157.98" y2="1490.01" stroke="#2b5446" stroke-width="1.3"/><rect x="1156.11" y="1490.16" width="3.5" height="5.9" rx="1.65" fill="#f2f6f4" stroke="#356b59" stroke-width="1.3" transform="rotate(2.27 1157.86 1493.11)"/><line x1="1157.73" y1="1496.21" x2="1157.54" y2="1501.10" stroke="#2b5446" stroke-width="1.3"/><rect x="1155.67" y="1501.25" width="3.5" height="5.9" rx="1.65" fill="#f2f6f4" stroke="#356b59" stroke-width="1.3" transform="rotate(2.27 1157.42 1504.20)"/><line x1="1157.29" y1="1507.30" x2="1157.10" y2="1512.19" stroke="#2b5446" stroke-width="1.3"/><rect x="1155.23" y="1512.34" width="3.5" height="5.9" rx="1.65" fill="#f2f6f4" stroke="#356b59" stroke-width="1.3" transform="rotate(2.27 1156.98 1515.29)"/><line x1="1156.85" y1="1518.39" x2="1156.66" y2="1523.29" stroke="#2b5446" stroke-width="1.3"/><rect x="1154.79" y="1523.43" width="3.5" height="5.9" rx="1.65" fill="#f2f6f4" stroke="#356b59" stroke-width="1.3" transform="rotate(2.27 1156.54 1526.38)"/><line x1="1156.41" y1="1529.48" x2="1156.22" y2="1534.38" stroke="#2b5446" stroke-width="1.3"/><rect x="1154.35" y="1534.53" width="3.5" height="5.9" rx="1.65" fill="#f2f6f4" stroke="#356b59" stroke-width="1.3" transform="rotate(2.27 1156.10 1537.48)"/><line x1="1155.98" y1="1540.57" x2="1155.78" y2="1545.47" stroke="#2b5446" stroke-width="1.3"/><rect x="1153.91" y="1545.62" width="3.5" height="5.9" rx="1.65" fill="#f2f6f4" stroke="#356b59" stroke-width="1.3" transform="rotate(2.27 1155.66 1548.57)"/><line x1="1155.54" y1="1551.66" x2="1155.34" y2="1556.56" stroke="#2b5446" stroke-width="1.3"/><rect x="1153.47" y="1556.71" width="3.5" height="5.9" rx="1.65" fill="#f2f6f4" stroke="#356b59" stroke-width="1.3" transform="rotate(2.27 1155.22 1559.66)"/><line x1="1155.10" y1="1562.76" x2="1154.90" y2="1567.65" stroke="#2b5446" stroke-width="1.3"/><rect x="1153.03" y="1567.80" width="3.5" height="5.9" rx="1.65" fill="#f2f6f4" stroke="#356b59" stroke-width="1.3" transform="rotate(2.27 1154.78 1570.75)"/><line x1="1154.66" y1="1573.85" x2="1154.30" y2="1582.80" stroke="#2b5446" stroke-width="1.3"/><path d="M1223.0,1348 L1223.5,1352 M1230.0,1348 L1229.5,1352" stroke="#777" stroke-width="1"/><circle cx="1226.5" cy="1354.5" r="3.6" fill="#6d6d6d"/><circle cx="1226.5" cy="1354.3" r="1.8" fill="#d8d8d8"/><path d="M1222.0,1354.5 L1223.5,1353 M1231.0,1354.5 L1229.5,1353" stroke="#555" stroke-width="1.2"/><line x1="1226.5" y1="1358" x2="1226.5" y2="1363" stroke="#888" stroke-width="1"/><path d="M1226.5,1362.5 Q1228.5,1363 1230.0,1370 L1230.5,1374.5 Q1230.0,1377.5 1226.5,1377.8 Q1223.0,1377.5 1222.5,1374.5 L1223.0,1370 Q1224.5,1363 1226.5,1362.5 Z" fill="#fff" stroke="#8a8a8a" stroke-width="1.1"/><rect x="1224.85" y="1379.25" width="3.5" height="5.9" rx="1.65" fill="#f2f6f4" stroke="#356b59" stroke-width="1.3" transform="rotate(-1.54 1226.60 1382.20)"/><line x1="1226.68" y1="1385.30" x2="1226.81" y2="1390.20" stroke="#2b5446" stroke-width="1.3"/><rect x="1225.15" y="1390.34" width="3.5" height="5.9" rx="1.65" fill="#f2f6f4" stroke="#356b59" stroke-width="1.3" transform="rotate(-1.54 1226.90 1393.29)"/><line x1="1226.98" y1="1396.39" x2="1227.11" y2="1401.29" stroke="#2b5446" stroke-width="1.3"/><rect x="1225.45" y="1401.44" width="3.5" height="5.9" rx="1.65" fill="#f2f6f4" stroke="#356b59" stroke-width="1.3" transform="rotate(-1.54 1227.20 1404.39)"/><line x1="1227.28" y1="1407.49" x2="1227.41" y2="1412.39" stroke="#2b5446" stroke-width="1.3"/><rect x="1225.74" y="1412.54" width="3.5" height="5.9" rx="1.65" fill="#f2f6f4" stroke="#356b59" stroke-width="1.3" transform="rotate(-1.54 1227.49 1415.49)"/><line x1="1227.58" y1="1418.59" x2="1227.71" y2="1423.48" stroke="#2b5446" stroke-width="1.3"/><rect x="1226.04" y="1423.63" width="3.5" height="5.9" rx="1.65" fill="#f2f6f4" stroke="#356b59" stroke-width="1.3" transform="rotate(-1.54 1227.79 1426.58)"/><line x1="1227.88" y1="1429.68" x2="1228.01" y2="1434.58" stroke="#2b5446" stroke-width="1.3"/><rect x="1226.34" y="1434.73" width="3.5" height="5.9" rx="1.65" fill="#f2f6f4" stroke="#356b59" stroke-width="1.3" transform="rotate(-1.54 1228.09 1437.68)"/><line x1="1228.18" y1="1440.78" x2="1228.31" y2="1445.68" stroke="#2b5446" stroke-width="1.3"/><rect x="1226.64" y="1445.82" width="3.5" height="5.9" rx="1.65" fill="#f2f6f4" stroke="#356b59" stroke-width="1.3" transform="rotate(-1.54 1228.39 1448.77)"/><line x1="1228.47" y1="1451.87" x2="1228.61" y2="1456.77" stroke="#2b5446" stroke-width="1.3"/><rect x="1226.94" y="1456.92" width="3.5" height="5.9" rx="1.65" fill="#f2f6f4" stroke="#356b59" stroke-width="1.3" transform="rotate(-1.54 1228.69 1459.87)"/><line x1="1228.77" y1="1462.97" x2="1228.91" y2="1467.87" stroke="#2b5446" stroke-width="1.3"/><rect x="1227.24" y="1468.02" width="3.5" height="5.9" rx="1.65" fill="#f2f6f4" stroke="#356b59" stroke-width="1.3" transform="rotate(-1.54 1228.99 1470.97)"/><line x1="1229.07" y1="1474.07" x2="1229.20" y2="1478.96" stroke="#2b5446" stroke-width="1.3"/><rect x="1227.54" y="1479.11" width="3.5" height="5.9" rx="1.65" fill="#f2f6f4" stroke="#356b59" stroke-width="1.3" transform="rotate(-1.54 1229.29 1482.06)"/><line x1="1229.37" y1="1485.16" x2="1229.50" y2="1490.06" stroke="#2b5446" stroke-width="1.3"/><rect x="1227.84" y="1490.21" width="3.5" height="5.9" rx="1.65" fill="#f2f6f4" stroke="#356b59" stroke-width="1.3" transform="rotate(-1.54 1229.59 1493.16)"/><line x1="1229.67" y1="1496.26" x2="1229.80" y2="1501.16" stroke="#2b5446" stroke-width="1.3"/><rect x="1228.14" y="1501.30" width="3.5" height="5.9" rx="1.65" fill="#f2f6f4" stroke="#356b59" stroke-width="1.3" transform="rotate(-1.54 1229.89 1504.25)"/><line x1="1229.97" y1="1507.35" x2="1230.10" y2="1512.25" stroke="#2b5446" stroke-width="1.3"/><rect x="1228.44" y="1512.40" width="3.5" height="5.9" rx="1.65" fill="#f2f6f4" stroke="#356b59" stroke-width="1.3" transform="rotate(-1.54 1230.19 1515.35)"/><line x1="1230.27" y1="1518.45" x2="1230.40" y2="1523.35" stroke="#2b5446" stroke-width="1.3"/><rect x="1228.73" y="1523.50" width="3.5" height="5.9" rx="1.65" fill="#f2f6f4" stroke="#356b59" stroke-width="1.3" transform="rotate(-1.54 1230.48 1526.45)"/><line x1="1230.57" y1="1529.55" x2="1230.70" y2="1534.44" stroke="#2b5446" stroke-width="1.3"/><rect x="1229.03" y="1534.59" width="3.5" height="5.9" rx="1.65" fill="#f2f6f4" stroke="#356b59" stroke-width="1.3" transform="rotate(-1.54 1230.78 1537.54)"/><line x1="1230.87" y1="1540.64" x2="1231.00" y2="1545.54" stroke="#2b5446" stroke-width="1.3"/><rect x="1229.33" y="1545.69" width="3.5" height="5.9" rx="1.65" fill="#f2f6f4" stroke="#356b59" stroke-width="1.3" transform="rotate(-1.54 1231.08 1548.64)"/><line x1="1231.17" y1="1551.74" x2="1231.30" y2="1556.64" stroke="#2b5446" stroke-width="1.3"/><rect x="1229.63" y="1556.78" width="3.5" height="5.9" rx="1.65" fill="#f2f6f4" stroke="#356b59" stroke-width="1.3" transform="rotate(-1.54 1231.38 1559.73)"/><line x1="1231.46" y1="1562.83" x2="1231.60" y2="1567.73" stroke="#2b5446" stroke-width="1.3"/><rect x="1229.93" y="1567.88" width="3.5" height="5.9" rx="1.65" fill="#f2f6f4" stroke="#356b59" stroke-width="1.3" transform="rotate(-1.54 1231.68 1570.83)"/><line x1="1231.76" y1="1573.93" x2="1231.90" y2="1578.83" stroke="#2b5446" stroke-width="1.3"/><rect x="1230.23" y="1578.98" width="3.5" height="5.9" rx="1.65" fill="#f2f6f4" stroke="#356b59" stroke-width="1.3" transform="rotate(-1.54 1231.98 1581.93)"/><line x1="1232.06" y1="1585.03" x2="1232.20" y2="1589.92" stroke="#2b5446" stroke-width="1.3"/><rect x="1230.53" y="1590.07" width="3.5" height="5.9" rx="1.65" fill="#f2f6f4" stroke="#356b59" stroke-width="1.3" transform="rotate(-1.54 1232.28 1593.02)"/><line x1="1232.36" y1="1596.12" x2="1232.49" y2="1601.02" stroke="#2b5446" stroke-width="1.3"/><rect x="1230.83" y="1601.17" width="3.5" height="5.9" rx="1.65" fill="#f2f6f4" stroke="#356b59" stroke-width="1.3" transform="rotate(-1.54 1232.58 1604.12)"/><line x1="1232.66" y1="1607.22" x2="1232.79" y2="1612.12" stroke="#2b5446" stroke-width="1.3"/><rect x="1231.13" y="1612.26" width="3.5" height="5.9" rx="1.65" fill="#f2f6f4" stroke="#356b59" stroke-width="1.3" transform="rotate(-1.54 1232.88 1615.21)"/><line x1="1232.96" y1="1618.31" x2="1233.09" y2="1623.21" stroke="#2b5446" stroke-width="1.3"/><rect x="1231.43" y="1623.36" width="3.5" height="5.9" rx="1.65" fill="#f2f6f4" stroke="#356b59" stroke-width="1.3" transform="rotate(-1.54 1233.18 1626.31)"/><line x1="1233.26" y1="1629.41" x2="1233.39" y2="1634.31" stroke="#2b5446" stroke-width="1.3"/><rect x="1231.72" y="1634.46" width="3.5" height="5.9" rx="1.65" fill="#f2f6f4" stroke="#356b59" stroke-width="1.3" transform="rotate(-1.54 1233.47 1637.41)"/><line x1="1233.56" y1="1640.50" x2="1233.69" y2="1645.40" stroke="#2b5446" stroke-width="1.3"/><rect x="1232.02" y="1645.55" width="3.5" height="5.9" rx="1.65" fill="#f2f6f4" stroke="#356b59" stroke-width="1.3" transform="rotate(-1.54 1233.77 1648.50)"/><line x1="1233.86" y1="1651.60" x2="1233.99" y2="1656.50" stroke="#2b5446" stroke-width="1.3"/><rect x="1232.32" y="1656.65" width="3.5" height="5.9" rx="1.65" fill="#f2f6f4" stroke="#356b59" stroke-width="1.3" transform="rotate(-1.54 1234.07 1659.60)"/><line x1="1234.16" y1="1662.70" x2="1234.29" y2="1667.60" stroke="#2b5446" stroke-width="1.3"/><rect x="1232.62" y="1667.74" width="3.5" height="5.9" rx="1.65" fill="#f2f6f4" stroke="#356b59" stroke-width="1.3" transform="rotate(-1.54 1234.37 1670.69)"/><line x1="1234.46" y1="1673.79" x2="1234.59" y2="1678.69" stroke="#2b5446" stroke-width="1.3"/><rect x="1232.92" y="1678.84" width="3.5" height="5.9" rx="1.65" fill="#f2f6f4" stroke="#356b59" stroke-width="1.3" transform="rotate(-1.54 1234.67 1681.79)"/><line x1="1234.75" y1="1684.89" x2="1234.89" y2="1689.79" stroke="#2b5446" stroke-width="1.3"/><rect x="1233.22" y="1689.94" width="3.5" height="5.9" rx="1.65" fill="#f2f6f4" stroke="#356b59" stroke-width="1.3" transform="rotate(-1.54 1234.97 1692.89)"/><line x1="1235.05" y1="1695.98" x2="1235.19" y2="1700.88" stroke="#2b5446" stroke-width="1.3"/><rect x="1233.52" y="1701.03" width="3.5" height="5.9" rx="1.65" fill="#f2f6f4" stroke="#356b59" stroke-width="1.3" transform="rotate(-1.54 1235.27 1703.98)"/><line x1="1235.35" y1="1707.08" x2="1235.48" y2="1711.98" stroke="#2b5446" stroke-width="1.3"/><rect x="1233.82" y="1712.13" width="3.5" height="5.9" rx="1.65" fill="#f2f6f4" stroke="#356b59" stroke-width="1.3" transform="rotate(-1.54 1235.57 1715.08)"/><line x1="1235.65" y1="1718.18" x2="1235.90" y2="1727.40" stroke="#2b5446" stroke-width="1.3"/><path d="M1301.1,1348 L1301.6,1352 M1308.1,1348 L1307.6,1352" stroke="#777" stroke-width="1"/><circle cx="1304.6" cy="1354.5" r="3.6" fill="#6d6d6d"/><circle cx="1304.6" cy="1354.3" r="1.8" fill="#d8d8d8"/><path d="M1300.1,1354.5 L1301.6,1353 M1309.1,1354.5 L1307.6,1353" stroke="#555" stroke-width="1.2"/><line x1="1304.6" y1="1358" x2="1304.6" y2="1363" stroke="#888" stroke-width="1"/><path d="M1304.6,1362.5 Q1306.6,1363 1308.1,1370 L1308.6,1374.5 Q1308.1,1377.5 1304.6,1377.8 Q1301.1,1377.5 1300.6,1374.5 L1301.1,1370 Q1302.6,1363 1304.6,1362.5 Z" fill="#fff" stroke="#8a8a8a" stroke-width="1.1"/><rect x="1302.75" y="1379.25" width="3.5" height="5.9" rx="1.65" fill="#f2f6f4" stroke="#356b59" stroke-width="1.3" transform="rotate(1.58 1304.50 1382.20)"/><line x1="1304.42" y1="1385.30" x2="1304.28" y2="1390.20" stroke="#2b5446" stroke-width="1.3"/><rect x="1302.45" y="1390.34" width="3.5" height="5.9" rx="1.65" fill="#f2f6f4" stroke="#356b59" stroke-width="1.3" transform="rotate(1.58 1304.20 1393.29)"/><line x1="1304.11" y1="1396.39" x2="1303.98" y2="1401.29" stroke="#2b5446" stroke-width="1.3"/><rect x="1302.14" y="1401.44" width="3.5" height="5.9" rx="1.65" fill="#f2f6f4" stroke="#356b59" stroke-width="1.3" transform="rotate(1.58 1303.89 1404.39)"/><line x1="1303.80" y1="1407.49" x2="1303.67" y2="1412.39" stroke="#2b5446" stroke-width="1.3"/><rect x="1301.83" y="1412.54" width="3.5" height="5.9" rx="1.65" fill="#f2f6f4" stroke="#356b59" stroke-width="1.3" transform="rotate(1.58 1303.58 1415.49)"/><line x1="1303.50" y1="1418.58" x2="1303.36" y2="1423.48" stroke="#2b5446" stroke-width="1.3"/><rect x="1301.53" y="1423.63" width="3.5" height="5.9" rx="1.65" fill="#f2f6f4" stroke="#356b59" stroke-width="1.3" transform="rotate(1.58 1303.28 1426.58)"/><line x1="1303.19" y1="1429.68" x2="1303.06" y2="1434.58" stroke="#2b5446" stroke-width="1.3"/><rect x="1301.22" y="1434.73" width="3.5" height="5.9" rx="1.65" fill="#f2f6f4" stroke="#356b59" stroke-width="1.3" transform="rotate(1.58 1302.97 1437.68)"/><line x1="1302.89" y1="1440.78" x2="1302.75" y2="1445.67" stroke="#2b5446" stroke-width="1.3"/><rect x="1300.92" y="1445.82" width="3.5" height="5.9" rx="1.65" fill="#f2f6f4" stroke="#356b59" stroke-width="1.3" transform="rotate(1.58 1302.67 1448.77)"/><line x1="1302.58" y1="1451.87" x2="1302.45" y2="1456.77" stroke="#2b5446" stroke-width="1.3"/><rect x="1300.61" y="1456.92" width="3.5" height="5.9" rx="1.65" fill="#f2f6f4" stroke="#356b59" stroke-width="1.3" transform="rotate(1.58 1302.36 1459.87)"/><line x1="1302.28" y1="1462.97" x2="1302.14" y2="1467.87" stroke="#2b5446" stroke-width="1.3"/><rect x="1300.31" y="1468.02" width="3.5" height="5.9" rx="1.65" fill="#f2f6f4" stroke="#356b59" stroke-width="1.3" transform="rotate(1.58 1302.06 1470.97)"/><line x1="1301.97" y1="1474.06" x2="1301.84" y2="1478.96" stroke="#2b5446" stroke-width="1.3"/><rect x="1300.00" y="1479.11" width="3.5" height="5.9" rx="1.65" fill="#f2f6f4" stroke="#356b59" stroke-width="1.3" transform="rotate(1.58 1301.75 1482.06)"/><line x1="1301.67" y1="1485.16" x2="1301.53" y2="1490.06" stroke="#2b5446" stroke-width="1.3"/><rect x="1299.70" y="1490.21" width="3.5" height="5.9" rx="1.65" fill="#f2f6f4" stroke="#356b59" stroke-width="1.3" transform="rotate(1.58 1301.45 1493.16)"/><line x1="1301.36" y1="1496.26" x2="1301.23" y2="1501.15" stroke="#2b5446" stroke-width="1.3"/><rect x="1299.39" y="1501.30" width="3.5" height="5.9" rx="1.65" fill="#f2f6f4" stroke="#356b59" stroke-width="1.3" transform="rotate(1.58 1301.14 1504.25)"/><line x1="1301.06" y1="1507.35" x2="1300.92" y2="1512.25" stroke="#2b5446" stroke-width="1.3"/><rect x="1299.09" y="1512.40" width="3.5" height="5.9" rx="1.65" fill="#f2f6f4" stroke="#356b59" stroke-width="1.3" transform="rotate(1.58 1300.84 1515.35)"/><line x1="1300.75" y1="1518.45" x2="1300.62" y2="1523.35" stroke="#2b5446" stroke-width="1.3"/><rect x="1298.78" y="1523.49" width="3.5" height="5.9" rx="1.65" fill="#f2f6f4" stroke="#356b59" stroke-width="1.3" transform="rotate(1.58 1300.53 1526.44)"/><line x1="1300.45" y1="1529.54" x2="1300.31" y2="1534.44" stroke="#2b5446" stroke-width="1.3"/><rect x="1298.48" y="1534.59" width="3.5" height="5.9" rx="1.65" fill="#f2f6f4" stroke="#356b59" stroke-width="1.3" transform="rotate(1.58 1300.23 1537.54)"/><line x1="1300.14" y1="1540.64" x2="1300.01" y2="1545.54" stroke="#2b5446" stroke-width="1.3"/><rect x="1298.17" y="1545.69" width="3.5" height="5.9" rx="1.65" fill="#f2f6f4" stroke="#356b59" stroke-width="1.3" transform="rotate(1.58 1299.92 1548.64)"/><line x1="1299.83" y1="1551.73" x2="1299.70" y2="1556.63" stroke="#2b5446" stroke-width="1.3"/><rect x="1297.86" y="1556.78" width="3.5" height="5.9" rx="1.65" fill="#f2f6f4" stroke="#356b59" stroke-width="1.3" transform="rotate(1.58 1299.61 1559.73)"/><line x1="1299.53" y1="1562.83" x2="1299.39" y2="1567.73" stroke="#2b5446" stroke-width="1.3"/><rect x="1297.56" y="1567.88" width="3.5" height="5.9" rx="1.65" fill="#f2f6f4" stroke="#356b59" stroke-width="1.3" transform="rotate(1.58 1299.31 1570.83)"/><line x1="1299.22" y1="1573.93" x2="1299.09" y2="1578.82" stroke="#2b5446" stroke-width="1.3"/><rect x="1297.25" y="1578.97" width="3.5" height="5.9" rx="1.65" fill="#f2f6f4" stroke="#356b59" stroke-width="1.3" transform="rotate(1.58 1299.00 1581.92)"/><line x1="1298.92" y1="1585.02" x2="1298.78" y2="1589.92" stroke="#2b5446" stroke-width="1.3"/><rect x="1296.95" y="1590.07" width="3.5" height="5.9" rx="1.65" fill="#f2f6f4" stroke="#356b59" stroke-width="1.3" transform="rotate(1.58 1298.70 1593.02)"/><line x1="1298.61" y1="1596.12" x2="1298.48" y2="1601.02" stroke="#2b5446" stroke-width="1.3"/><rect x="1296.64" y="1601.16" width="3.5" height="5.9" rx="1.65" fill="#f2f6f4" stroke="#356b59" stroke-width="1.3" transform="rotate(1.58 1298.39 1604.11)"/><line x1="1298.31" y1="1607.21" x2="1298.17" y2="1612.11" stroke="#2b5446" stroke-width="1.3"/><rect x="1296.34" y="1612.26" width="3.5" height="5.9" rx="1.65" fill="#f2f6f4" stroke="#356b59" stroke-width="1.3" transform="rotate(1.58 1298.09 1615.21)"/><line x1="1298.00" y1="1618.31" x2="1297.87" y2="1623.21" stroke="#2b5446" stroke-width="1.3"/><rect x="1296.03" y="1623.36" width="3.5" height="5.9" rx="1.65" fill="#f2f6f4" stroke="#356b59" stroke-width="1.3" transform="rotate(1.58 1297.78 1626.31)"/><line x1="1297.70" y1="1629.41" x2="1297.56" y2="1634.30" stroke="#2b5446" stroke-width="1.3"/><rect x="1295.73" y="1634.45" width="3.5" height="5.9" rx="1.65" fill="#f2f6f4" stroke="#356b59" stroke-width="1.3" transform="rotate(1.58 1297.48 1637.40)"/><line x1="1297.39" y1="1640.50" x2="1297.26" y2="1645.40" stroke="#2b5446" stroke-width="1.3"/><rect x="1295.42" y="1645.55" width="3.5" height="5.9" rx="1.65" fill="#f2f6f4" stroke="#356b59" stroke-width="1.3" transform="rotate(1.58 1297.17 1648.50)"/><line x1="1297.09" y1="1651.60" x2="1296.95" y2="1656.49" stroke="#2b5446" stroke-width="1.3"/><rect x="1295.12" y="1656.64" width="3.5" height="5.9" rx="1.65" fill="#f2f6f4" stroke="#356b59" stroke-width="1.3" transform="rotate(1.58 1296.87 1659.59)"/><line x1="1296.78" y1="1662.69" x2="1296.65" y2="1667.59" stroke="#2b5446" stroke-width="1.3"/><rect x="1294.81" y="1667.74" width="3.5" height="5.9" rx="1.65" fill="#f2f6f4" stroke="#356b59" stroke-width="1.3" transform="rotate(1.58 1296.56 1670.69)"/><line x1="1296.48" y1="1673.79" x2="1296.34" y2="1678.69" stroke="#2b5446" stroke-width="1.3"/><rect x="1294.51" y="1678.84" width="3.5" height="5.9" rx="1.65" fill="#f2f6f4" stroke="#356b59" stroke-width="1.3" transform="rotate(1.58 1296.26 1681.79)"/><line x1="1296.17" y1="1684.88" x2="1296.04" y2="1689.78" stroke="#2b5446" stroke-width="1.3"/><rect x="1294.20" y="1689.93" width="3.5" height="5.9" rx="1.65" fill="#f2f6f4" stroke="#356b59" stroke-width="1.3" transform="rotate(1.58 1295.95 1692.88)"/><line x1="1295.86" y1="1695.98" x2="1295.73" y2="1700.88" stroke="#2b5446" stroke-width="1.3"/><rect x="1293.89" y="1701.03" width="3.5" height="5.9" rx="1.65" fill="#f2f6f4" stroke="#356b59" stroke-width="1.3" transform="rotate(1.58 1295.64 1703.98)"/><line x1="1295.56" y1="1707.08" x2="1295.42" y2="1711.97" stroke="#2b5446" stroke-width="1.3"/><rect x="1293.59" y="1712.12" width="3.5" height="5.9" rx="1.65" fill="#f2f6f4" stroke="#356b59" stroke-width="1.3" transform="rotate(1.58 1295.34 1715.07)"/><line x1="1295.25" y1="1718.17" x2="1295.00" y2="1727.40" stroke="#2b5446" stroke-width="1.3"/><rect x="905.7" y="1726.6" width="7.2" height="12.400000000000091" rx="3.6" fill="#fff" stroke="#8f8f8f" stroke-width="1.1"/><rect x="964.9" y="1726.6" width="7.2" height="12.400000000000091" rx="3.6" fill="#fff" stroke="#8f8f8f" stroke-width="1.1"/><rect x="1232.3" y="1726.6" width="7.2" height="12.400000000000091" rx="3.6" fill="#fff" stroke="#8f8f8f" stroke-width="1.1"/><rect x="1291.4" y="1726.6" width="7.2" height="12.400000000000091" rx="3.6" fill="#fff" stroke="#8f8f8f" stroke-width="1.1"/><path d="M909.8,1736 C910.3,1766 921.9,1777.3 938.9,1777.3 C955.9,1777.3 967.5,1766 968.0,1736" fill="none" stroke="#1d6a50" stroke-width="2.6"/><path d="M1236.4,1736 C1236.9,1766 1248.5,1777.3 1265.5,1777.3 C1282.5,1777.3 1294.0,1766 1294.5,1736" fill="none" stroke="#1d6a50" stroke-width="2.6"/><rect x="1046.6" y="1582" width="7.6" height="13" rx="3.8" fill="#fff" stroke="#8f8f8f" stroke-width="1.1"/><line x1="1050.4" y1="1595" x2="1050.4" y2="1600" stroke="#666" stroke-width="1.5"/><line x1="1050.4" y1="1606" x2="1050.4" y2="1611" stroke="#999" stroke-width="1.2"/><circle cx="1050.4" cy="1614" r="2.3" fill="none" stroke="#1d7a58" stroke-width="1.6"/><polygon points="1050.4,1615.5 1046.2,1623.5 1054.6,1623.5" fill="#1a7052"/><path d="M1050.4,1617 L1036.9,1640 Q1034.4,1646 1041.4,1646 L1059.4,1646 Q1066.4,1646 1063.9,1640 Z" fill="none" stroke="#1b7353" stroke-width="3" stroke-linejoin="round"/><rect x="1150.5" y="1582" width="7.6" height="13" rx="3.8" fill="#fff" stroke="#8f8f8f" stroke-width="1.1"/><line x1="1154.3" y1="1595" x2="1154.3" y2="1600" stroke="#666" stroke-width="1.5"/><line x1="1154.3" y1="1606" x2="1154.3" y2="1611" stroke="#999" stroke-width="1.2"/><circle cx="1154.3" cy="1614" r="2.3" fill="none" stroke="#1d7a58" stroke-width="1.6"/><polygon points="1154.3,1615.5 1150.1,1623.5 1158.5,1623.5" fill="#1a7052"/><path d="M1154.3,1617 L1140.8,1640 Q1138.3,1646 1145.3,1646 L1163.3,1646 Q1170.3,1646 1167.8,1640 Z" fill="none" stroke="#1b7353" stroke-width="3" stroke-linejoin="round"/><rect x="1047" y="1600.2" width="110.5" height="6" rx="2.5" fill="url(#gBar)"/>
<rect x="383.0" y="1862.0" width="1443.0" height="2" fill="#27476f"/>
<rect x="1070.0" y="60.0" width="2.5" height="12.5" fill="#27476f"/>
<rect x="1078.5" y="82.75" width="12.6" height="2.1" fill="#27476f"/>
<line x1="1131.2" y1="96.7" x2="1154.8" y2="63.6" stroke="#27476f" stroke-width="2.1"/>
<rect x="1168.0" y="60.0" width="2.5" height="12.5" fill="#27476f"/>
<rect x="1175.0" y="60.0" width="2.5" height="12.5" fill="#27476f"/>
<text y="97.6" class="dim"><tspan x="1013.1">2</tspan><tspan x="1041.0">6</tspan><tspan x="1093.7">4</tspan></text>
<text x="1121.2" y="83.3" class="dim sm">3</text>
<text x="1148.4" y="96.7" class="dim sm">4</text>
<path d="M1016.8,315.7 L1025.1,309.8 L1025.1,343.0" fill="none" stroke="#27476f" stroke-width="2.3" stroke-linejoin="miter"/>
<rect x="1062.2" y="306.0" width="2.5" height="12.5" fill="#27476f"/>
<rect x="1070.0" y="328.75" width="12.6" height="2.1" fill="#27476f"/>
<line x1="1122.3" y1="342.7" x2="1145.9" y2="309.6" stroke="#27476f" stroke-width="2.1"/>
<rect x="1159.3" y="306.0" width="2.5" height="12.5" fill="#27476f"/>
<rect x="1166.7" y="306.0" width="2.5" height="12.5" fill="#27476f"/>
<text y="343.6" class="dim"><tspan x="1031.7">3</tspan><tspan x="1084.9">2</tspan></text>
<text x="1112.3" y="329.3" class="dim sm">3</text>
<text x="1139.5" y="342.7" class="dim sm">4</text>
<rect x="229.2" y="605.7" width="2.5" height="12.5" fill="#27476f"/>
<rect x="237.4" y="628.45" width="12.6" height="2.1" fill="#27476f"/>
<rect x="281.7" y="605.7" width="2.5" height="12.5" fill="#27476f"/>
<rect x="289.0" y="605.7" width="2.5" height="12.5" fill="#27476f"/>
<text y="643.3" class="dim"><tspan x="173.9">2</tspan><tspan x="200.4">2</tspan><tspan x="252.6">9</tspan></text>
<rect x="532.3" y="633.5" width="2.5" height="12.5" fill="#27476f"/>
<rect x="540.6" y="656.25" width="12.6" height="2.1" fill="#27476f"/>
<rect x="585.8" y="633.5" width="2.5" height="12.5" fill="#27476f"/>
<rect x="593.2" y="633.5" width="2.5" height="12.5" fill="#27476f"/>
<text y="671.1" class="dim"><tspan x="502.5">6</tspan><tspan x="555.8">6</tspan></text>
<rect x="1587.0" y="606.0" width="2.5" height="12.5" fill="#27476f"/>
<rect x="1594.7" y="628.75" width="12.6" height="2.1" fill="#27476f"/>
<rect x="1637.1" y="606.0" width="2.5" height="12.5" fill="#27476f"/>
<rect x="1644.1" y="606.0" width="2.5" height="12.5" fill="#27476f"/>
<text y="643.6" class="dim"><tspan x="1557.0">9</tspan><tspan x="1608.7">7</tspan></text>
<rect x="1137.8" y="1055.5" width="2.5" height="12.5" fill="#27476f"/>
<rect x="1146.4" y="1078.25" width="12.6" height="2.1" fill="#27476f"/>
<rect x="1191.9" y="1055.5" width="2.5" height="12.5" fill="#27476f"/>
<rect x="1198.4" y="1055.5" width="2.5" height="12.5" fill="#27476f"/>
<text y="1093.1" class="dim"><tspan x="1107.7">6</tspan><tspan x="1161.3">6</tspan></text>
<rect x="630.9" y="1557.2" width="2.5" height="12.5" fill="#27476f"/>
<rect x="638.0" y="1579.95" width="12.6" height="2.1" fill="#27476f"/>
<line x1="692.6" y1="1593.9" x2="716.2" y2="1560.8" stroke="#27476f" stroke-width="2.1"/>
<rect x="729.9" y="1557.2" width="2.5" height="12.5" fill="#27476f"/>
<rect x="736.9" y="1557.2" width="2.5" height="12.5" fill="#27476f"/>
<text y="1594.8" class="dim"><tspan x="600.5">9</tspan><tspan x="654.2">3</tspan></text>
<text x="682.6" y="1580.5" class="dim sm">3</text>
<text x="709.8" y="1593.9" class="dim sm">4</text>
<rect x="1483.1" y="1550.2" width="2.5" height="12.5" fill="#27476f"/>
<rect x="1491.0" y="1572.95" width="12.6" height="2.1" fill="#27476f"/>
<path d="M1534.9,1557.3 L1541.1,1553.2 M1540.5,1552.9 L1540.5,1573.6" fill="none" stroke="#27476f" stroke-width="2.1"/>
<line x1="1538.4" y1="1586.7" x2="1561.6" y2="1553.7" stroke="#27476f" stroke-width="2.1"/>
<rect x="1575.5" y="1550.2" width="2.5" height="12.5" fill="#27476f"/>
<rect x="1581.7" y="1550.2" width="2.5" height="12.5" fill="#27476f"/>
<text y="1587.8" class="dim"><tspan x="1452.7">9</tspan><tspan x="1506.7">6</tspan></text>
<text x="1555.5" y="1586.7" class="dim sm">2</text>
<text class="ttl" style="font-size:67.6px" transform="translate(972.86,216.1) scale(0.7109,1)">T</text>
<text class="ttl" style="font-size:67.6px" transform="translate(1003.23,216.1) scale(0.6387,1)">O</text>
<text class="ttl" style="font-size:67.6px" transform="translate(1038.47,216.1) scale(0.7136,1)">P</text>
<text class="ttl" style="font-size:67.6px" transform="translate(1082.96,216.1) scale(0.7291,1)">V</text>
<text class="ttl" style="font-size:67.6px" transform="translate(1116.58,216.1) scale(0.8010,1)">I</text>
<text class="ttl" style="font-size:67.6px" transform="translate(1134.34,216.1) scale(0.6328,1)">E</text>
<text class="ttl" style="font-size:67.6px" transform="translate(1163.95,216.1) scale(0.7287,1)">W</text>
<text class="ttl" style="font-size:68px" transform="translate(990.99,1970.1) scale(0.6841,1)">F</text>
<text class="ttl" style="font-size:68px" transform="translate(1020.95,1970.1) scale(0.6255,1)">R</text>
<text class="ttl" style="font-size:68px" transform="translate(1054.43,1970.1) scale(0.6349,1)">O</text>
<text class="ttl" style="font-size:68px" transform="translate(1088.90,1970.1) scale(0.7254,1)">N</text>
<text class="ttl" style="font-size:68px" transform="translate(1125.67,1970.1) scale(0.6968,1)">T</text>
<text class="ttl" style="font-size:68px" transform="translate(1166.56,1970.1) scale(0.7361,1)">V</text>
<text class="ttl" style="font-size:68px" transform="translate(1200.87,1970.1) scale(0.7759,1)">I</text>
<text class="ttl" style="font-size:68px" transform="translate(1217.73,1970.1) scale(0.6527,1)">E</text>
<text class="ttl" style="font-size:68px" transform="translate(1248.05,1970.1) scale(0.7244,1)">W</text>
<text class="ttl" style="font-size:52.9px" transform="translate(1473.76,1250.9) scale(0.6815,1)">S</text>
<text class="ttl" style="font-size:52.9px" transform="translate(1498.10,1250.9) scale(0.6819,1)">A</text>
<text class="ttl" style="font-size:52.9px" transform="translate(1524.79,1250.9) scale(0.6819,1)">F</text>
<text class="ttl" style="font-size:52.9px" transform="translate(1547.66,1250.9) scale(0.6334,1)">E</text>
<text class="ttl" style="font-size:52.9px" transform="translate(1580.20,1250.9) scale(0.6781,1)">P</text>
<text class="ttl" style="font-size:52.9px" transform="translate(1605.29,1250.9) scale(0.6815,1)">L</text>
<text class="ttl" style="font-size:52.9px" transform="translate(1626.59,1250.9) scale(0.6931,1)">A</text>
<text class="ttl" style="font-size:52.9px" transform="translate(1651.95,1250.9) scale(0.7218,1)">Y</text>
<text class="ttl" style="font-size:52.9px" transform="translate(1686.69,1250.9) scale(0.7051,1)">Z</text>
<text class="ttl" style="font-size:52.9px" transform="translate(1710.65,1250.9) scale(0.6203,1)">O</text>
<text class="ttl" style="font-size:52.9px" transform="translate(1737.60,1250.9) scale(0.7074,1)">N</text>
<text class="ttl" style="font-size:52.9px" transform="translate(1766.11,1250.9) scale(0.6200,1)">E</text>
</svg>
</body></html>
